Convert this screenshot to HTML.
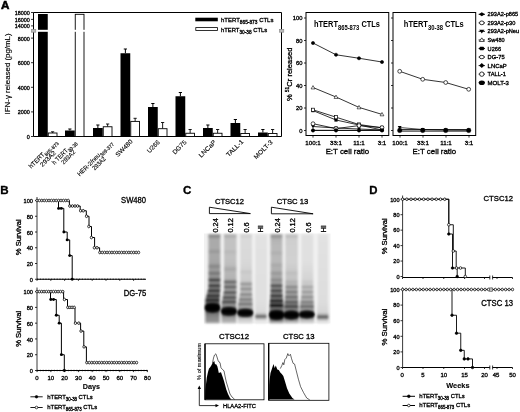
<!DOCTYPE html>
<html><head><meta charset="utf-8"><title>Figure</title>
<style>
html,body{margin:0;padding:0;background:#fff;width:520px;height:412px;overflow:hidden}
svg{display:block;will-change:transform}
text{font-family:"Liberation Sans", sans-serif;fill:#000;stroke:#000;stroke-width:0.32px}
</style></head><body>
<svg width="520" height="412" viewBox="0 0 520 412">
<text x="0.9" y="8.8" font-size="10.2" text-anchor="start" font-weight="bold" textLength="8.4" lengthAdjust="spacingAndGlyphs" style="stroke-width:0.5px">A</text>
<path d="M33.5,12.5 H281.5 V136.5 H33.5 Z" fill="none" stroke="#000" stroke-width="1"/>
<line x1="31.0" y1="136.5" x2="33.5" y2="136.5" stroke="#000" stroke-width="0.8"/>
<text x="29.8" y="138.9" font-size="5.4" text-anchor="end">0</text>
<line x1="31.0" y1="111.9" x2="33.5" y2="111.9" stroke="#000" stroke-width="0.8"/>
<text x="29.8" y="114.30000000000001" font-size="5.4" text-anchor="end">2000</text>
<line x1="31.0" y1="87.3" x2="33.5" y2="87.3" stroke="#000" stroke-width="0.8"/>
<text x="29.8" y="89.7" font-size="5.4" text-anchor="end">4000</text>
<line x1="31.0" y1="62.7" x2="33.5" y2="62.7" stroke="#000" stroke-width="0.8"/>
<text x="29.8" y="65.10000000000001" font-size="5.4" text-anchor="end">6000</text>
<line x1="31.0" y1="38.099999999999994" x2="33.5" y2="38.099999999999994" stroke="#000" stroke-width="0.8"/>
<text x="29.8" y="40.49999999999999" font-size="5.4" text-anchor="end">8000</text>
<line x1="31.0" y1="25.9" x2="33.5" y2="25.9" stroke="#000" stroke-width="0.8"/>
<text x="29.8" y="28.299999999999997" font-size="5.4" text-anchor="end">14000</text>
<line x1="31.0" y1="19.4" x2="33.5" y2="19.4" stroke="#000" stroke-width="0.8"/>
<text x="29.8" y="21.799999999999997" font-size="5.4" text-anchor="end">16000</text>
<line x1="31.0" y1="12.5" x2="33.5" y2="12.5" stroke="#000" stroke-width="0.8"/>
<text x="29.8" y="14.9" font-size="5.4" text-anchor="end">18000</text>
<rect x="31.4" y="29.3" width="4.4" height="2.9" fill="#bbb" stroke="#888" stroke-width="0.6"/>
<rect x="279.4" y="29.3" width="4.4" height="2.9" fill="#bbb" stroke="#888" stroke-width="0.6"/>
<text x="10.4" y="73.9" font-size="7.4" text-anchor="middle" textLength="81" lengthAdjust="spacingAndGlyphs" transform="rotate(-90 10.4 73.9)" style="stroke-width:0.15px">IFN-&#947; released (pg/mL)</text>
<rect x="38.0" y="14" width="9.75" height="122.5" fill="#000" stroke="none" stroke-width="1"/>
<line x1="52.625" y1="131.8" x2="52.625" y2="133" stroke="#000" stroke-width="0.9"/>
<line x1="51.025" y1="131.8" x2="54.225" y2="131.8" stroke="#000" stroke-width="0.9"/>
<rect x="48.25" y="133" width="8.75" height="3.5" fill="#fff" stroke="#000" stroke-width="0.9"/>
<rect x="65" y="130.5" width="9.75" height="6.0" fill="#000" stroke="none" stroke-width="1"/>
<line x1="69.875" y1="129" x2="69.875" y2="130.5" stroke="#000" stroke-width="1"/>
<line x1="68.275" y1="129" x2="71.475" y2="129" stroke="#000" stroke-width="1"/>
<rect x="75.25" y="14.3" width="8.75" height="122.2" fill="#fff" stroke="#000" stroke-width="0.9"/>
<rect x="93" y="128" width="9.75" height="8.5" fill="#000" stroke="none" stroke-width="1"/>
<line x1="97.875" y1="125" x2="97.875" y2="128" stroke="#000" stroke-width="1"/>
<line x1="96.275" y1="125" x2="99.475" y2="125" stroke="#000" stroke-width="1"/>
<line x1="107.625" y1="124" x2="107.625" y2="126.75" stroke="#000" stroke-width="0.9"/>
<line x1="106.025" y1="124" x2="109.225" y2="124" stroke="#000" stroke-width="0.9"/>
<rect x="103.25" y="126.75" width="8.75" height="9.75" fill="#fff" stroke="#000" stroke-width="0.9"/>
<rect x="120.5" y="53.25" width="9.75" height="83.25" fill="#000" stroke="none" stroke-width="1"/>
<line x1="125.375" y1="49" x2="125.375" y2="53.25" stroke="#000" stroke-width="1"/>
<line x1="123.775" y1="49" x2="126.975" y2="49" stroke="#000" stroke-width="1"/>
<line x1="135.125" y1="118.3" x2="135.125" y2="121.4" stroke="#000" stroke-width="0.9"/>
<line x1="133.525" y1="118.3" x2="136.725" y2="118.3" stroke="#000" stroke-width="0.9"/>
<rect x="130.75" y="121.4" width="8.75" height="15.099999999999994" fill="#fff" stroke="#000" stroke-width="0.9"/>
<rect x="148.0" y="107" width="9.75" height="29.5" fill="#000" stroke="none" stroke-width="1"/>
<line x1="152.875" y1="103.5" x2="152.875" y2="107" stroke="#000" stroke-width="1"/>
<line x1="151.275" y1="103.5" x2="154.475" y2="103.5" stroke="#000" stroke-width="1"/>
<line x1="162.625" y1="122.5" x2="162.625" y2="128.7" stroke="#000" stroke-width="0.9"/>
<line x1="161.025" y1="122.5" x2="164.225" y2="122.5" stroke="#000" stroke-width="0.9"/>
<rect x="158.25" y="128.7" width="8.75" height="7.800000000000011" fill="#fff" stroke="#000" stroke-width="0.9"/>
<rect x="175.5" y="96.25" width="9.75" height="40.25" fill="#000" stroke="none" stroke-width="1"/>
<line x1="180.375" y1="92.5" x2="180.375" y2="96.25" stroke="#000" stroke-width="1"/>
<line x1="178.775" y1="92.5" x2="181.975" y2="92.5" stroke="#000" stroke-width="1"/>
<line x1="190.125" y1="129.5" x2="190.125" y2="133.25" stroke="#000" stroke-width="0.9"/>
<line x1="188.525" y1="129.5" x2="191.725" y2="129.5" stroke="#000" stroke-width="0.9"/>
<rect x="185.75" y="133.25" width="8.75" height="3.25" fill="#fff" stroke="#000" stroke-width="0.9"/>
<rect x="203.0" y="128" width="9.75" height="8.5" fill="#000" stroke="none" stroke-width="1"/>
<line x1="207.875" y1="125" x2="207.875" y2="128" stroke="#000" stroke-width="1"/>
<line x1="206.275" y1="125" x2="209.475" y2="125" stroke="#000" stroke-width="1"/>
<line x1="217.625" y1="129.5" x2="217.625" y2="133.25" stroke="#000" stroke-width="0.9"/>
<line x1="216.025" y1="129.5" x2="219.225" y2="129.5" stroke="#000" stroke-width="0.9"/>
<rect x="213.25" y="133.25" width="8.75" height="3.25" fill="#fff" stroke="#000" stroke-width="0.9"/>
<rect x="230.5" y="123" width="9.75" height="13.5" fill="#000" stroke="none" stroke-width="1"/>
<line x1="235.375" y1="119.5" x2="235.375" y2="123" stroke="#000" stroke-width="1"/>
<line x1="233.775" y1="119.5" x2="236.975" y2="119.5" stroke="#000" stroke-width="1"/>
<line x1="245.125" y1="129.5" x2="245.125" y2="133.5" stroke="#000" stroke-width="0.9"/>
<line x1="243.525" y1="129.5" x2="246.725" y2="129.5" stroke="#000" stroke-width="0.9"/>
<rect x="240.75" y="133.5" width="8.75" height="3.0" fill="#fff" stroke="#000" stroke-width="0.9"/>
<rect x="258.0" y="132.5" width="9.75" height="4.0" fill="#000" stroke="none" stroke-width="1"/>
<line x1="262.875" y1="129.5" x2="262.875" y2="132.5" stroke="#000" stroke-width="1"/>
<line x1="261.275" y1="129.5" x2="264.475" y2="129.5" stroke="#000" stroke-width="1"/>
<line x1="272.625" y1="129.5" x2="272.625" y2="133.5" stroke="#000" stroke-width="0.9"/>
<line x1="271.025" y1="129.5" x2="274.225" y2="129.5" stroke="#000" stroke-width="0.9"/>
<rect x="268.25" y="133.5" width="8.75" height="3.0" fill="#fff" stroke="#000" stroke-width="0.9"/>
<rect x="37" y="29.8" width="11" height="2.0" fill="#fff" stroke="none" stroke-width="1"/>
<rect x="73.5" y="29.8" width="12" height="2.0" fill="#fff" stroke="none" stroke-width="1"/>
<rect x="195.3" y="17.7" width="22.5" height="3.6" fill="#000" stroke="none" stroke-width="1"/>
<rect x="195.8" y="27.6" width="21.7" height="2.9" fill="#fff" stroke="#000" stroke-width="0.8"/>
<text x="221" y="22.3" font-size="6.2" textLength="52.4" lengthAdjust="spacingAndGlyphs">hTERT<tspan font-size="5" dy="1.8">865-873</tspan><tspan dy="-1.8"> CTLs</tspan></text>
<text x="221" y="32.1" font-size="6.2" textLength="46.2" lengthAdjust="spacingAndGlyphs">hTERT<tspan font-size="5" dy="1.8">30-38</tspan><tspan dy="-1.8"> CTLs</tspan></text>
<text x="42.99" y="154.01" font-size="6.3" text-anchor="middle" dy="2.27" transform="rotate(-45 42.99 154.01)" textLength="37.5" lengthAdjust="spacingAndGlyphs" style="stroke-width:0.12px">hTERT<tspan font-size="5" dy="2">865-873</tspan></text>
<text x="47.80" y="158.67" font-size="6.3" text-anchor="middle" dy="2.27" transform="rotate(-45 47.80 158.67)" textLength="19.5" lengthAdjust="spacingAndGlyphs" style="stroke-width:0.12px">293A2</text>
<text x="63.99" y="152.24" font-size="6.3" text-anchor="middle" dy="2.27" transform="rotate(-45 63.99 152.24)" textLength="31.5" lengthAdjust="spacingAndGlyphs" style="stroke-width:0.12px">h TERT<tspan font-size="5" dy="2">30-38</tspan></text>
<text x="68.17" y="156.98" font-size="6.3" text-anchor="middle" dy="2.27" transform="rotate(-45 68.17 156.98)" textLength="17.3" lengthAdjust="spacingAndGlyphs" style="stroke-width:0.12px">293A2</text>
<text x="94.82" y="158.32" font-size="6.3" text-anchor="middle" dy="2.27" transform="rotate(-45 94.82 158.32)" textLength="47.0" lengthAdjust="spacingAndGlyphs" style="stroke-width:0.12px">HER-2/neu<tspan font-size="5" dy="2">369-377</tspan></text>
<text x="98.85" y="163.34" font-size="6.3" text-anchor="middle" dy="2.27" transform="rotate(-45 98.85 163.34)" textLength="16.0" lengthAdjust="spacingAndGlyphs" style="stroke-width:0.12px">293A2</text>
<text x="123.96" y="148.00" font-size="6.3" text-anchor="middle" dy="2.27" transform="rotate(-45 123.96 148.00)" textLength="21.5" lengthAdjust="spacingAndGlyphs" style="stroke-width:0.12px">SW480</text>
<text x="153.30" y="146.51" font-size="6.3" text-anchor="middle" dy="2.27" transform="rotate(-45 153.30 146.51)" textLength="15.3" lengthAdjust="spacingAndGlyphs" style="stroke-width:0.12px">U266</text>
<text x="179.39" y="147.15" font-size="6.3" text-anchor="middle" dy="2.27" transform="rotate(-45 179.39 147.15)" textLength="17.0" lengthAdjust="spacingAndGlyphs" style="stroke-width:0.12px">DG75</text>
<text x="207.25" y="148.70" font-size="6.3" text-anchor="middle" dy="2.27" transform="rotate(-45 207.25 148.70)" textLength="21.6" lengthAdjust="spacingAndGlyphs" style="stroke-width:0.12px">LNCaP</text>
<text x="234.76" y="148.07" font-size="6.3" text-anchor="middle" dy="2.27" transform="rotate(-45 234.76 148.07)" textLength="21.4" lengthAdjust="spacingAndGlyphs" style="stroke-width:0.12px">TALL-1</text>
<text x="263.11" y="149.41" font-size="6.3" text-anchor="middle" dy="2.27" transform="rotate(-45 263.11 149.41)" textLength="23.7" lengthAdjust="spacingAndGlyphs" style="stroke-width:0.12px">MOLT-3</text>
<!-- panel cyto -->
<rect x="306" y="12.5" width="82.75" height="123" fill="none" stroke="#000" stroke-width="1"/>
<line x1="304" y1="130.5" x2="306" y2="130.5" stroke="#000" stroke-width="0.8"/>
<line x1="304" y1="108.0" x2="306" y2="108.0" stroke="#000" stroke-width="0.8"/>
<line x1="304" y1="85.5" x2="306" y2="85.5" stroke="#000" stroke-width="0.8"/>
<line x1="304" y1="63.0" x2="306" y2="63.0" stroke="#000" stroke-width="0.8"/>
<line x1="304" y1="40.5" x2="306" y2="40.5" stroke="#000" stroke-width="0.8"/>
<line x1="304" y1="18.0" x2="306" y2="18.0" stroke="#000" stroke-width="0.8"/>
<line x1="313" y1="135.5" x2="313" y2="137.6" stroke="#000" stroke-width="0.8"/>
<line x1="336" y1="135.5" x2="336" y2="137.6" stroke="#000" stroke-width="0.8"/>
<line x1="359" y1="135.5" x2="359" y2="137.6" stroke="#000" stroke-width="0.8"/>
<line x1="382" y1="135.5" x2="382" y2="137.6" stroke="#000" stroke-width="0.8"/>
<text x="313" y="144.8" font-size="6.2" text-anchor="middle">100:1</text>
<text x="336" y="144.8" font-size="6.2" text-anchor="middle">33:1</text>
<text x="359" y="144.8" font-size="6.2" text-anchor="middle">11:1</text>
<text x="382" y="144.8" font-size="6.2" text-anchor="middle">3:1</text>
<text x="347.375" y="154.3" font-size="8.0" text-anchor="middle" textLength="43.5" lengthAdjust="spacingAndGlyphs">E:T cell ratio</text>
<rect x="393" y="12.5" width="82.69999999999999" height="123" fill="none" stroke="#000" stroke-width="1"/>
<line x1="391" y1="130.5" x2="393" y2="130.5" stroke="#000" stroke-width="0.8"/>
<line x1="391" y1="108.0" x2="393" y2="108.0" stroke="#000" stroke-width="0.8"/>
<line x1="391" y1="85.5" x2="393" y2="85.5" stroke="#000" stroke-width="0.8"/>
<line x1="391" y1="63.0" x2="393" y2="63.0" stroke="#000" stroke-width="0.8"/>
<line x1="391" y1="40.5" x2="393" y2="40.5" stroke="#000" stroke-width="0.8"/>
<line x1="391" y1="18.0" x2="393" y2="18.0" stroke="#000" stroke-width="0.8"/>
<line x1="400" y1="135.5" x2="400" y2="137.6" stroke="#000" stroke-width="0.8"/>
<line x1="423" y1="135.5" x2="423" y2="137.6" stroke="#000" stroke-width="0.8"/>
<line x1="446" y1="135.5" x2="446" y2="137.6" stroke="#000" stroke-width="0.8"/>
<line x1="469" y1="135.5" x2="469" y2="137.6" stroke="#000" stroke-width="0.8"/>
<text x="400" y="144.8" font-size="6.2" text-anchor="middle">100:1</text>
<text x="423" y="144.8" font-size="6.2" text-anchor="middle">33:1</text>
<text x="446" y="144.8" font-size="6.2" text-anchor="middle">11:1</text>
<text x="469" y="144.8" font-size="6.2" text-anchor="middle">3:1</text>
<text x="434.35" y="154.3" font-size="8.0" text-anchor="middle" textLength="43.5" lengthAdjust="spacingAndGlyphs">E:T cell ratio</text>
<text x="302.5" y="132.5" font-size="5.8" text-anchor="end">0</text>
<text x="302.5" y="110.0" font-size="5.8" text-anchor="end">20</text>
<text x="302.5" y="87.5" font-size="5.8" text-anchor="end">40</text>
<text x="302.5" y="65.0" font-size="5.8" text-anchor="end">60</text>
<text x="302.5" y="42.5" font-size="5.8" text-anchor="end">80</text>
<text x="302.5" y="20.0" font-size="5.8" text-anchor="end">100</text>
<text x="314" y="27.2" font-size="8.3" font-weight="bold" style="stroke-width:0" textLength="66" lengthAdjust="spacingAndGlyphs">hTERT<tspan font-size="6.5" dy="2.7">865-873</tspan><tspan dy="-2.7"> CTLs</tspan></text>
<text x="403.8" y="27.2" font-size="8.3" font-weight="bold" style="stroke-width:0" textLength="60" lengthAdjust="spacingAndGlyphs">hTERT<tspan font-size="6.5" dy="2.7">30-38</tspan><tspan dy="-2.7"> CTLs</tspan></text>
<text x="292" y="74.3" font-size="7.6" text-anchor="middle" transform="rotate(-90 292 74.3)" textLength="53.4" lengthAdjust="spacingAndGlyphs">% <tspan font-size="5" dy="-2.5">51</tspan><tspan dy="2.5">Cr released</tspan></text>
<polyline points="313.00,43.00 336.00,54.75 359.00,58.25 382.00,62.00" fill="none" stroke="#000" stroke-width="0.8"/>
<polyline points="313.00,87.50 336.00,97.00 359.00,107.40 382.00,114.40" fill="none" stroke="#000" stroke-width="0.8"/>
<polyline points="313.00,110.60 336.00,120.00 359.00,125.00 382.00,130.00" fill="none" stroke="#000" stroke-width="0.8"/>
<polyline points="313.00,109.80 336.00,117.20 359.00,124.50 382.00,127.80" fill="none" stroke="#000" stroke-width="0.8"/>
<polyline points="313.00,126.50 336.00,128.00 359.00,129.00 382.00,130.00" fill="none" stroke="#000" stroke-width="0.8"/>
<polyline points="313.00,123.70 336.00,128.60 359.00,125.60 382.00,127.60" fill="none" stroke="#000" stroke-width="0.8"/>
<polyline points="313.00,130.40 336.00,130.40 359.00,130.40 382.00,130.40" fill="none" stroke="#000" stroke-width="0.8"/>
<polyline points="313.00,130.40 336.00,130.40 359.00,130.40 382.00,130.40" fill="none" stroke="#000" stroke-width="0.8"/>
<circle cx="313.00" cy="43.00" r="1.6" fill="#000" stroke="#000" stroke-width="0.6"/>
<circle cx="336.00" cy="54.75" r="1.6" fill="#000" stroke="#000" stroke-width="0.6"/>
<circle cx="359.00" cy="58.25" r="1.6" fill="#000" stroke="#000" stroke-width="0.6"/>
<circle cx="382.00" cy="62.00" r="1.6" fill="#000" stroke="#000" stroke-width="0.6"/>
<polygon points="313.00,85.58 314.92,88.94 311.08,88.94" fill="#fff" stroke="#000" stroke-width="0.6"/>
<polygon points="336.00,95.08 337.92,98.44 334.08,98.44" fill="#fff" stroke="#000" stroke-width="0.6"/>
<polygon points="359.00,105.48 360.92,108.84 357.08,108.84" fill="#fff" stroke="#000" stroke-width="0.6"/>
<polygon points="382.00,112.48 383.92,115.84 380.08,115.84" fill="#fff" stroke="#000" stroke-width="0.6"/>
<rect x="311.4" y="109.0" width="3.2" height="3.2" fill="#000" stroke="none" stroke-width="1"/>
<rect x="334.4" y="118.4" width="3.2" height="3.2" fill="#000" stroke="none" stroke-width="1"/>
<rect x="357.4" y="123.4" width="3.2" height="3.2" fill="#000" stroke="none" stroke-width="1"/>
<rect x="380.4" y="128.4" width="3.2" height="3.2" fill="#000" stroke="none" stroke-width="1"/>
<rect x="311.40" y="108.20" width="3.2" height="3.2" fill="#fff" stroke="#000" stroke-width="0.7"/>
<rect x="334.40" y="115.60" width="3.2" height="3.2" fill="#fff" stroke="#000" stroke-width="0.7"/>
<rect x="357.40" y="122.90" width="3.2" height="3.2" fill="#fff" stroke="#000" stroke-width="0.7"/>
<rect x="380.40" y="126.20" width="3.2" height="3.2" fill="#fff" stroke="#000" stroke-width="0.7"/>
<polygon points="313.00,128.42 314.92,125.06 311.08,125.06" fill="#000" stroke="none" stroke-width="1"/>
<polygon points="336.00,129.92 337.92,126.56 334.08,126.56" fill="#000" stroke="none" stroke-width="1"/>
<polygon points="359.00,130.92 360.92,127.56 357.08,127.56" fill="#000" stroke="none" stroke-width="1"/>
<polygon points="382.00,131.92 383.92,128.56 380.08,128.56" fill="#000" stroke="none" stroke-width="1"/>
<circle cx="313.00" cy="123.70" r="1.9" fill="#fff" stroke="#000" stroke-width="0.7"/>
<circle cx="336.00" cy="128.60" r="1.9" fill="#fff" stroke="#000" stroke-width="0.7"/>
<circle cx="359.00" cy="125.60" r="1.9" fill="#fff" stroke="#000" stroke-width="0.7"/>
<circle cx="382.00" cy="127.60" r="1.9" fill="#fff" stroke="#000" stroke-width="0.7"/>
<polygon points="313.00,128.32 315.08,130.40 313.00,132.48 310.92,130.40" fill="#000" stroke="none" stroke-width="1"/>
<polygon points="336.00,128.32 338.08,130.40 336.00,132.48 333.92,130.40" fill="#000" stroke="none" stroke-width="1"/>
<polygon points="359.00,128.32 361.08,130.40 359.00,132.48 356.92,130.40" fill="#000" stroke="none" stroke-width="1"/>
<polygon points="382.00,128.32 384.08,130.40 382.00,132.48 379.92,130.40" fill="#000" stroke="none" stroke-width="1"/>
<circle cx="313.00" cy="130.40" r="1.6" fill="#000" stroke="#000" stroke-width="0.6"/>
<circle cx="336.00" cy="130.40" r="1.6" fill="#000" stroke="#000" stroke-width="0.6"/>
<circle cx="359.00" cy="130.40" r="1.6" fill="#000" stroke="#000" stroke-width="0.6"/>
<circle cx="382.00" cy="130.40" r="1.6" fill="#000" stroke="#000" stroke-width="0.6"/>
<polyline points="399.70,129.60 422.70,129.60 445.70,129.60 468.70,129.60" fill="none" stroke="#000" stroke-width="0.9"/>
<polyline points="399.70,131.10 422.70,131.10 445.70,131.10 468.70,131.10" fill="none" stroke="#000" stroke-width="0.9"/>
<polyline points="399.70,127.50 422.70,129.50 445.70,130.00 468.70,130.20" fill="none" stroke="#000" stroke-width="0.7"/>
<polyline points="399.70,71.30 422.70,79.30 445.70,82.50 468.70,89.30" fill="none" stroke="#000" stroke-width="0.8"/>
<polygon points="399.70,129.42 401.62,126.06 397.78,126.06" fill="#000" stroke="none" stroke-width="1"/>
<polygon points="422.70,131.42 424.62,128.06 420.78,128.06" fill="#000" stroke="none" stroke-width="1"/>
<polygon points="445.70,131.92 447.62,128.56 443.78,128.56" fill="#000" stroke="none" stroke-width="1"/>
<polygon points="468.70,132.12 470.62,128.76 466.78,128.76" fill="#000" stroke="none" stroke-width="1"/>
<circle cx="399.70" cy="130.40" r="2.3" fill="#000" stroke="#000" stroke-width="0.3"/>
<circle cx="422.70" cy="130.40" r="2.3" fill="#000" stroke="#000" stroke-width="0.3"/>
<circle cx="445.70" cy="130.40" r="2.3" fill="#000" stroke="#000" stroke-width="0.3"/>
<circle cx="468.70" cy="130.40" r="2.3" fill="#000" stroke="#000" stroke-width="0.3"/>
<circle cx="399.70" cy="71.30" r="1.9" fill="#fff" stroke="#000" stroke-width="0.7"/>
<circle cx="422.70" cy="79.30" r="1.9" fill="#fff" stroke="#000" stroke-width="0.7"/>
<circle cx="445.70" cy="82.50" r="1.9" fill="#fff" stroke="#000" stroke-width="0.7"/>
<circle cx="468.70" cy="89.30" r="1.9" fill="#fff" stroke="#000" stroke-width="0.7"/>
<line x1="478.6" y1="14.3" x2="485" y2="14.3" stroke="#000" stroke-width="0.8"/>
<polygon points="478.80,14.30 481.80,12.30 484.80,14.30 481.80,16.30" fill="#000" stroke="none" stroke-width="1"/>
<text x="487.6" y="16.3" font-size="5.8" text-anchor="start" textLength="30.6" lengthAdjust="spacingAndGlyphs">293A2-p865</text>
<line x1="478.6" y1="22.85" x2="485" y2="22.85" stroke="#000" stroke-width="0.8"/>
<ellipse cx="481.8" cy="22.85" rx="2.3" ry="1.9" fill="#fff" stroke="#000" stroke-width="0.8"/>
<text x="487.6" y="24.85" font-size="5.8" text-anchor="start" textLength="27.7" lengthAdjust="spacingAndGlyphs">293A2-p30</text>
<line x1="478.6" y1="31.400000000000002" x2="485" y2="31.400000000000002" stroke="#000" stroke-width="0.8"/>
<polygon points="479.20,29.80 484.40,29.80 481.80,33.40" fill="#000" stroke="none" stroke-width="1"/>
<text x="487.6" y="33.400000000000006" font-size="5.8" text-anchor="start" textLength="31.5" lengthAdjust="spacingAndGlyphs">293A2-pNeu</text>
<line x1="478.6" y1="39.95" x2="485" y2="39.95" stroke="#000" stroke-width="0.8"/>
<polygon points="481.80,37.85 484.30,41.45 479.30,41.45" fill="#fff" stroke="#000" stroke-width="0.7"/>
<text x="487.6" y="41.95" font-size="5.8" text-anchor="start" textLength="17" lengthAdjust="spacingAndGlyphs">Sw480</text>
<line x1="478.6" y1="48.5" x2="485" y2="48.5" stroke="#000" stroke-width="0.8"/>
<polygon points="478.80,48.50 480.20,46.70 483.40,46.70 484.80,48.50 483.40,50.30 480.20,50.30" fill="#000" stroke="none" stroke-width="1"/>
<text x="487.6" y="50.5" font-size="5.8" text-anchor="start" textLength="13.4" lengthAdjust="spacingAndGlyphs">U266</text>
<line x1="478.6" y1="57.05" x2="485" y2="57.05" stroke="#000" stroke-width="0.8"/>
<ellipse cx="481.8" cy="57.05" rx="2.4" ry="1.7" fill="#fff" stroke="#000" stroke-width="0.8"/>
<text x="487.6" y="59.05" font-size="5.8" text-anchor="start" textLength="17" lengthAdjust="spacingAndGlyphs">DG-75</text>
<line x1="478.6" y1="65.60000000000001" x2="485" y2="65.60000000000001" stroke="#000" stroke-width="0.8"/>
<polygon points="479.20,65.60 481.80,63.10 484.40,65.60 481.80,68.10" fill="#000" stroke="none" stroke-width="1"/>
<text x="487.6" y="67.60000000000001" font-size="5.8" text-anchor="start" textLength="19.1" lengthAdjust="spacingAndGlyphs">LNCaP</text>
<line x1="478.6" y1="74.15" x2="485" y2="74.15" stroke="#000" stroke-width="0.8"/>
<circle cx="481.80" cy="74.15" r="2.2" fill="#fff" stroke="#000" stroke-width="0.8"/>
<text x="487.6" y="76.15" font-size="5.8" text-anchor="start" textLength="18.3" lengthAdjust="spacingAndGlyphs">TALL-1</text>
<line x1="478.6" y1="82.7" x2="485" y2="82.7" stroke="#000" stroke-width="0.8"/>
<ellipse cx="481.8" cy="82.70" rx="3" ry="2.3" fill="#000"/>
<text x="487.6" y="84.7" font-size="5.8" text-anchor="start" textLength="21.3" lengthAdjust="spacingAndGlyphs">MOLT-3</text>
<!-- panel B -->
<text x="0.2" y="193.5" font-size="11.6" text-anchor="start" font-weight="bold">B</text>
<line x1="37" y1="197" x2="37" y2="279.25" stroke="#3a3a3a" stroke-width="1"/>
<line x1="35" y1="279.25" x2="37" y2="279.25" stroke="#000" stroke-width="0.8"/>
<text x="32.9" y="281.85" font-size="5.6" text-anchor="end">0</text>
<line x1="35" y1="263.5" x2="37" y2="263.5" stroke="#000" stroke-width="0.8"/>
<text x="32.9" y="266.1" font-size="5.6" text-anchor="end">20</text>
<line x1="35" y1="247.75" x2="37" y2="247.75" stroke="#000" stroke-width="0.8"/>
<text x="32.9" y="250.35" font-size="5.6" text-anchor="end">40</text>
<line x1="35" y1="232.0" x2="37" y2="232.0" stroke="#000" stroke-width="0.8"/>
<text x="32.9" y="234.6" font-size="5.6" text-anchor="end">60</text>
<line x1="35" y1="216.25" x2="37" y2="216.25" stroke="#000" stroke-width="0.8"/>
<text x="32.9" y="218.85" font-size="5.6" text-anchor="end">80</text>
<line x1="35" y1="200.5" x2="37" y2="200.5" stroke="#000" stroke-width="0.8"/>
<text x="32.9" y="203.1" font-size="5.6" text-anchor="end">100</text>
<line x1="37" y1="279.25" x2="146" y2="279.25" stroke="#000" stroke-width="1"/>
<line x1="37" y1="279.25" x2="146" y2="279.25" stroke="#000" stroke-width="1.6" stroke-dasharray="1.2 1.6" opacity="0.6"/>
<line x1="37.0" y1="279.25" x2="37.0" y2="280.85" stroke="#000" stroke-width="0.8"/>
<line x1="50.8" y1="279.25" x2="50.8" y2="280.85" stroke="#000" stroke-width="0.8"/>
<line x1="64.6" y1="279.25" x2="64.6" y2="280.85" stroke="#000" stroke-width="0.8"/>
<line x1="78.4" y1="279.25" x2="78.4" y2="280.85" stroke="#000" stroke-width="0.8"/>
<line x1="92.19999999999999" y1="279.25" x2="92.19999999999999" y2="280.85" stroke="#000" stroke-width="0.8"/>
<line x1="106.0" y1="279.25" x2="106.0" y2="280.85" stroke="#000" stroke-width="0.8"/>
<line x1="119.8" y1="279.25" x2="119.8" y2="280.85" stroke="#000" stroke-width="0.8"/>
<line x1="133.6" y1="279.25" x2="133.6" y2="280.85" stroke="#000" stroke-width="0.8"/>
<line x1="37" y1="287.5" x2="37" y2="370.5" stroke="#3a3a3a" stroke-width="1"/>
<line x1="35" y1="370.5" x2="37" y2="370.5" stroke="#000" stroke-width="0.8"/>
<text x="32.9" y="373.1" font-size="5.6" text-anchor="end">0</text>
<line x1="35" y1="354.72" x2="37" y2="354.72" stroke="#000" stroke-width="0.8"/>
<text x="32.9" y="357.32000000000005" font-size="5.6" text-anchor="end">20</text>
<line x1="35" y1="338.94" x2="37" y2="338.94" stroke="#000" stroke-width="0.8"/>
<text x="32.9" y="341.54" font-size="5.6" text-anchor="end">40</text>
<line x1="35" y1="323.15999999999997" x2="37" y2="323.15999999999997" stroke="#000" stroke-width="0.8"/>
<text x="32.9" y="325.76" font-size="5.6" text-anchor="end">60</text>
<line x1="35" y1="307.38" x2="37" y2="307.38" stroke="#000" stroke-width="0.8"/>
<text x="32.9" y="309.98" font-size="5.6" text-anchor="end">80</text>
<line x1="35" y1="291.6" x2="37" y2="291.6" stroke="#000" stroke-width="0.8"/>
<text x="32.9" y="294.20000000000005" font-size="5.6" text-anchor="end">100</text>
<line x1="37" y1="370.5" x2="147.6" y2="370.5" stroke="#000" stroke-width="1"/>
<line x1="37" y1="370.5" x2="147.6" y2="370.5" stroke="#000" stroke-width="1.6" stroke-dasharray="1.2 1.6" opacity="0.6"/>
<line x1="37.0" y1="370.5" x2="37.0" y2="372.1" stroke="#000" stroke-width="0.8"/>
<line x1="50.8" y1="370.5" x2="50.8" y2="372.1" stroke="#000" stroke-width="0.8"/>
<line x1="64.6" y1="370.5" x2="64.6" y2="372.1" stroke="#000" stroke-width="0.8"/>
<line x1="78.4" y1="370.5" x2="78.4" y2="372.1" stroke="#000" stroke-width="0.8"/>
<line x1="92.19999999999999" y1="370.5" x2="92.19999999999999" y2="372.1" stroke="#000" stroke-width="0.8"/>
<line x1="106.0" y1="370.5" x2="106.0" y2="372.1" stroke="#000" stroke-width="0.8"/>
<line x1="119.8" y1="370.5" x2="119.8" y2="372.1" stroke="#000" stroke-width="0.8"/>
<line x1="133.6" y1="370.5" x2="133.6" y2="372.1" stroke="#000" stroke-width="0.8"/>
<line x1="147.39999999999998" y1="370.5" x2="147.39999999999998" y2="372.1" stroke="#000" stroke-width="0.8"/>
<text x="21.2" y="237.2" font-size="7.6" text-anchor="middle" textLength="36" lengthAdjust="spacingAndGlyphs" transform="rotate(-90 21.2 237.2)">% Survival</text>
<text x="21.2" y="328.8" font-size="7.6" text-anchor="middle" textLength="36" lengthAdjust="spacingAndGlyphs" transform="rotate(-90 21.2 328.8)">% Survival</text>
<text x="121.1" y="202.5" font-size="8.4" text-anchor="start" textLength="25" lengthAdjust="spacingAndGlyphs">SW480</text>
<text x="123.8" y="296.0" font-size="8.4" text-anchor="start" textLength="22.5" lengthAdjust="spacingAndGlyphs">DG-75</text>
<text x="37.0" y="380.1" font-size="6.0" text-anchor="middle">0</text>
<text x="50.8" y="380.1" font-size="6.0" text-anchor="middle">10</text>
<text x="64.6" y="380.1" font-size="6.0" text-anchor="middle">20</text>
<text x="78.4" y="380.1" font-size="6.0" text-anchor="middle">30</text>
<text x="92.19999999999999" y="380.1" font-size="6.0" text-anchor="middle">40</text>
<text x="106.0" y="380.1" font-size="6.0" text-anchor="middle">50</text>
<text x="119.8" y="380.1" font-size="6.0" text-anchor="middle">60</text>
<text x="133.6" y="380.1" font-size="6.0" text-anchor="middle">70</text>
<text x="147.39999999999998" y="380.1" font-size="6.0" text-anchor="middle">80</text>
<text x="91.3" y="389.0" font-size="6.9" text-anchor="middle" font-weight="bold" textLength="17.2" lengthAdjust="spacingAndGlyphs" style="stroke-width:0.1px">Days</text>
<path d="M37.00,200.50 H58.50 V208.38 H63.80 V232.00 H67.20 V239.88 H69.70 V255.62 H72.20 V279.25 H72.20" fill="none" stroke="#000" stroke-width="1"/>
<path d="M37.00,200.50 H69.40 V206.01 H80.20 V210.74 H86.30 V216.25 H89.00 V226.49 H91.50 V237.51 H94.60 V247.75 H99.60 V252.47 H139.00" fill="none" stroke="#000" stroke-width="1"/>
<ellipse cx="37.00" cy="200.50" rx="1.15" ry="1.35" fill="#fff" stroke="#000" stroke-width="0.75"/>
<ellipse cx="39.40" cy="200.50" rx="1.15" ry="1.35" fill="#fff" stroke="#000" stroke-width="0.75"/>
<ellipse cx="41.80" cy="200.50" rx="1.15" ry="1.35" fill="#fff" stroke="#000" stroke-width="0.75"/>
<ellipse cx="44.20" cy="200.50" rx="1.15" ry="1.35" fill="#fff" stroke="#000" stroke-width="0.75"/>
<ellipse cx="46.60" cy="200.50" rx="1.15" ry="1.35" fill="#fff" stroke="#000" stroke-width="0.75"/>
<ellipse cx="49.00" cy="200.50" rx="1.15" ry="1.35" fill="#fff" stroke="#000" stroke-width="0.75"/>
<ellipse cx="51.40" cy="200.50" rx="1.15" ry="1.35" fill="#fff" stroke="#000" stroke-width="0.75"/>
<ellipse cx="53.80" cy="200.50" rx="1.15" ry="1.35" fill="#fff" stroke="#000" stroke-width="0.75"/>
<ellipse cx="56.20" cy="200.50" rx="1.15" ry="1.35" fill="#fff" stroke="#000" stroke-width="0.75"/>
<ellipse cx="58.60" cy="200.50" rx="1.15" ry="1.35" fill="#fff" stroke="#000" stroke-width="0.75"/>
<ellipse cx="61.00" cy="200.50" rx="1.15" ry="1.35" fill="#fff" stroke="#000" stroke-width="0.75"/>
<ellipse cx="63.40" cy="200.50" rx="1.15" ry="1.35" fill="#fff" stroke="#000" stroke-width="0.75"/>
<ellipse cx="65.80" cy="200.50" rx="1.15" ry="1.35" fill="#fff" stroke="#000" stroke-width="0.75"/>
<ellipse cx="68.20" cy="200.50" rx="1.15" ry="1.35" fill="#fff" stroke="#000" stroke-width="0.75"/>
<ellipse cx="69.80" cy="206.01" rx="1.15" ry="1.35" fill="#fff" stroke="#000" stroke-width="0.75"/>
<ellipse cx="72.40" cy="206.01" rx="1.15" ry="1.35" fill="#fff" stroke="#000" stroke-width="0.75"/>
<ellipse cx="75.00" cy="206.01" rx="1.15" ry="1.35" fill="#fff" stroke="#000" stroke-width="0.75"/>
<ellipse cx="77.60" cy="206.01" rx="1.15" ry="1.35" fill="#fff" stroke="#000" stroke-width="0.75"/>
<ellipse cx="80.60" cy="210.74" rx="1.15" ry="1.35" fill="#fff" stroke="#000" stroke-width="0.75"/>
<ellipse cx="83.20" cy="210.74" rx="1.15" ry="1.35" fill="#fff" stroke="#000" stroke-width="0.75"/>
<ellipse cx="86.50" cy="216.25" rx="1.15" ry="1.35" fill="#fff" stroke="#000" stroke-width="0.75"/>
<ellipse cx="88.80" cy="226.49" rx="1.15" ry="1.35" fill="#fff" stroke="#000" stroke-width="0.75"/>
<ellipse cx="91.40" cy="237.51" rx="1.15" ry="1.35" fill="#fff" stroke="#000" stroke-width="0.75"/>
<ellipse cx="94.30" cy="247.75" rx="1.15" ry="1.35" fill="#fff" stroke="#000" stroke-width="0.75"/>
<ellipse cx="97.00" cy="247.75" rx="1.15" ry="1.35" fill="#fff" stroke="#000" stroke-width="0.75"/>
<ellipse cx="99.80" cy="252.47" rx="1.15" ry="1.35" fill="#fff" stroke="#000" stroke-width="0.75"/>
<ellipse cx="102.22" cy="252.47" rx="1.15" ry="1.35" fill="#fff" stroke="#000" stroke-width="0.75"/>
<ellipse cx="104.65" cy="252.47" rx="1.15" ry="1.35" fill="#fff" stroke="#000" stroke-width="0.75"/>
<ellipse cx="107.08" cy="252.47" rx="1.15" ry="1.35" fill="#fff" stroke="#000" stroke-width="0.75"/>
<ellipse cx="109.50" cy="252.47" rx="1.15" ry="1.35" fill="#fff" stroke="#000" stroke-width="0.75"/>
<ellipse cx="111.92" cy="252.47" rx="1.15" ry="1.35" fill="#fff" stroke="#000" stroke-width="0.75"/>
<ellipse cx="114.35" cy="252.47" rx="1.15" ry="1.35" fill="#fff" stroke="#000" stroke-width="0.75"/>
<ellipse cx="116.77" cy="252.47" rx="1.15" ry="1.35" fill="#fff" stroke="#000" stroke-width="0.75"/>
<ellipse cx="119.20" cy="252.47" rx="1.15" ry="1.35" fill="#fff" stroke="#000" stroke-width="0.75"/>
<ellipse cx="121.62" cy="252.47" rx="1.15" ry="1.35" fill="#fff" stroke="#000" stroke-width="0.75"/>
<ellipse cx="124.05" cy="252.47" rx="1.15" ry="1.35" fill="#fff" stroke="#000" stroke-width="0.75"/>
<ellipse cx="126.47" cy="252.47" rx="1.15" ry="1.35" fill="#fff" stroke="#000" stroke-width="0.75"/>
<ellipse cx="128.90" cy="252.47" rx="1.15" ry="1.35" fill="#fff" stroke="#000" stroke-width="0.75"/>
<ellipse cx="131.32" cy="252.47" rx="1.15" ry="1.35" fill="#fff" stroke="#000" stroke-width="0.75"/>
<ellipse cx="133.75" cy="252.47" rx="1.15" ry="1.35" fill="#fff" stroke="#000" stroke-width="0.75"/>
<ellipse cx="136.18" cy="252.47" rx="1.15" ry="1.35" fill="#fff" stroke="#000" stroke-width="0.75"/>
<ellipse cx="138.60" cy="252.47" rx="1.15" ry="1.35" fill="#fff" stroke="#000" stroke-width="0.75"/>
<ellipse cx="58.60" cy="208.38" rx="1.5" ry="1.4" fill="#000"/>
<ellipse cx="61.30" cy="208.38" rx="1.5" ry="1.4" fill="#000"/>
<ellipse cx="63.90" cy="232.00" rx="1.5" ry="1.4" fill="#000"/>
<ellipse cx="67.20" cy="239.88" rx="1.5" ry="1.4" fill="#000"/>
<ellipse cx="69.70" cy="255.62" rx="1.5" ry="1.4" fill="#000"/>
<ellipse cx="72.20" cy="279.25" rx="1.5" ry="1.4" fill="#000"/>
<path d="M37.00,291.60 H50.50 V299.49 H56.30 V315.27 H59.20 V323.16 H61.40 V354.72 H64.30 V370.50 H64.30" fill="none" stroke="#000" stroke-width="1"/>
<path d="M37.00,291.60 H63.60 V299.49 H67.50 V307.38 H75.00 V323.16 H80.60 V331.05 H83.80 V346.83 H86.40 V362.61 H137.00" fill="none" stroke="#000" stroke-width="1"/>
<ellipse cx="37.00" cy="291.60" rx="1.15" ry="1.35" fill="#fff" stroke="#000" stroke-width="0.75"/>
<ellipse cx="39.35" cy="291.60" rx="1.15" ry="1.35" fill="#fff" stroke="#000" stroke-width="0.75"/>
<ellipse cx="41.69" cy="291.60" rx="1.15" ry="1.35" fill="#fff" stroke="#000" stroke-width="0.75"/>
<ellipse cx="44.04" cy="291.60" rx="1.15" ry="1.35" fill="#fff" stroke="#000" stroke-width="0.75"/>
<ellipse cx="46.38" cy="291.60" rx="1.15" ry="1.35" fill="#fff" stroke="#000" stroke-width="0.75"/>
<ellipse cx="48.73" cy="291.60" rx="1.15" ry="1.35" fill="#fff" stroke="#000" stroke-width="0.75"/>
<ellipse cx="51.07" cy="291.60" rx="1.15" ry="1.35" fill="#fff" stroke="#000" stroke-width="0.75"/>
<ellipse cx="53.42" cy="291.60" rx="1.15" ry="1.35" fill="#fff" stroke="#000" stroke-width="0.75"/>
<ellipse cx="55.76" cy="291.60" rx="1.15" ry="1.35" fill="#fff" stroke="#000" stroke-width="0.75"/>
<ellipse cx="58.11" cy="291.60" rx="1.15" ry="1.35" fill="#fff" stroke="#000" stroke-width="0.75"/>
<ellipse cx="60.45" cy="291.60" rx="1.15" ry="1.35" fill="#fff" stroke="#000" stroke-width="0.75"/>
<ellipse cx="62.80" cy="291.60" rx="1.15" ry="1.35" fill="#fff" stroke="#000" stroke-width="0.75"/>
<ellipse cx="64.40" cy="299.49" rx="1.15" ry="1.35" fill="#fff" stroke="#000" stroke-width="0.75"/>
<ellipse cx="67.80" cy="307.38" rx="1.15" ry="1.35" fill="#fff" stroke="#000" stroke-width="0.75"/>
<ellipse cx="69.93" cy="307.38" rx="1.15" ry="1.35" fill="#fff" stroke="#000" stroke-width="0.75"/>
<ellipse cx="72.07" cy="307.38" rx="1.15" ry="1.35" fill="#fff" stroke="#000" stroke-width="0.75"/>
<ellipse cx="74.20" cy="307.38" rx="1.15" ry="1.35" fill="#fff" stroke="#000" stroke-width="0.75"/>
<ellipse cx="75.40" cy="323.16" rx="1.15" ry="1.35" fill="#fff" stroke="#000" stroke-width="0.75"/>
<ellipse cx="78.80" cy="323.16" rx="1.15" ry="1.35" fill="#fff" stroke="#000" stroke-width="0.75"/>
<ellipse cx="81.00" cy="331.05" rx="1.15" ry="1.35" fill="#fff" stroke="#000" stroke-width="0.75"/>
<ellipse cx="84.00" cy="346.83" rx="1.15" ry="1.35" fill="#fff" stroke="#000" stroke-width="0.75"/>
<ellipse cx="86.80" cy="362.61" rx="1.15" ry="1.35" fill="#fff" stroke="#000" stroke-width="0.75"/>
<ellipse cx="89.29" cy="362.61" rx="1.15" ry="1.35" fill="#fff" stroke="#000" stroke-width="0.75"/>
<ellipse cx="91.78" cy="362.61" rx="1.15" ry="1.35" fill="#fff" stroke="#000" stroke-width="0.75"/>
<ellipse cx="94.27" cy="362.61" rx="1.15" ry="1.35" fill="#fff" stroke="#000" stroke-width="0.75"/>
<ellipse cx="96.76" cy="362.61" rx="1.15" ry="1.35" fill="#fff" stroke="#000" stroke-width="0.75"/>
<ellipse cx="99.25" cy="362.61" rx="1.15" ry="1.35" fill="#fff" stroke="#000" stroke-width="0.75"/>
<ellipse cx="101.74" cy="362.61" rx="1.15" ry="1.35" fill="#fff" stroke="#000" stroke-width="0.75"/>
<ellipse cx="104.23" cy="362.61" rx="1.15" ry="1.35" fill="#fff" stroke="#000" stroke-width="0.75"/>
<ellipse cx="106.72" cy="362.61" rx="1.15" ry="1.35" fill="#fff" stroke="#000" stroke-width="0.75"/>
<ellipse cx="109.21" cy="362.61" rx="1.15" ry="1.35" fill="#fff" stroke="#000" stroke-width="0.75"/>
<ellipse cx="111.70" cy="362.61" rx="1.15" ry="1.35" fill="#fff" stroke="#000" stroke-width="0.75"/>
<ellipse cx="114.19" cy="362.61" rx="1.15" ry="1.35" fill="#fff" stroke="#000" stroke-width="0.75"/>
<ellipse cx="116.68" cy="362.61" rx="1.15" ry="1.35" fill="#fff" stroke="#000" stroke-width="0.75"/>
<ellipse cx="119.17" cy="362.61" rx="1.15" ry="1.35" fill="#fff" stroke="#000" stroke-width="0.75"/>
<ellipse cx="121.66" cy="362.61" rx="1.15" ry="1.35" fill="#fff" stroke="#000" stroke-width="0.75"/>
<ellipse cx="124.15" cy="362.61" rx="1.15" ry="1.35" fill="#fff" stroke="#000" stroke-width="0.75"/>
<ellipse cx="126.64" cy="362.61" rx="1.15" ry="1.35" fill="#fff" stroke="#000" stroke-width="0.75"/>
<ellipse cx="129.13" cy="362.61" rx="1.15" ry="1.35" fill="#fff" stroke="#000" stroke-width="0.75"/>
<ellipse cx="131.62" cy="362.61" rx="1.15" ry="1.35" fill="#fff" stroke="#000" stroke-width="0.75"/>
<ellipse cx="134.11" cy="362.61" rx="1.15" ry="1.35" fill="#fff" stroke="#000" stroke-width="0.75"/>
<ellipse cx="136.60" cy="362.61" rx="1.15" ry="1.35" fill="#fff" stroke="#000" stroke-width="0.75"/>
<ellipse cx="50.80" cy="299.49" rx="1.5" ry="1.4" fill="#000"/>
<ellipse cx="53.50" cy="299.49" rx="1.5" ry="1.4" fill="#000"/>
<ellipse cx="56.30" cy="315.27" rx="1.5" ry="1.4" fill="#000"/>
<ellipse cx="59.20" cy="323.16" rx="1.5" ry="1.4" fill="#000"/>
<ellipse cx="61.40" cy="354.72" rx="1.5" ry="1.4" fill="#000"/>
<ellipse cx="64.30" cy="370.50" rx="1.5" ry="1.4" fill="#000"/>
<line x1="30.4" y1="396.8" x2="42.7" y2="396.8" stroke="#000" stroke-width="0.9"/>
<circle cx="36.50" cy="396.80" r="1.3" fill="#000" stroke="#000" stroke-width="0.6"/>
<line x1="30.4" y1="407.5" x2="42.7" y2="407.5" stroke="#000" stroke-width="0.9"/>
<circle cx="36.50" cy="407.50" r="1.3" fill="#fff" stroke="#000" stroke-width="0.7"/>
<text x="47.3" y="398.6" font-size="6.2" textLength="45.4" lengthAdjust="spacingAndGlyphs">hTERT<tspan font-size="4.6" dy="2">30-38</tspan><tspan dy="-2"> CTLs</tspan></text>
<text x="47.3" y="409.3" font-size="6.2" textLength="50" lengthAdjust="spacingAndGlyphs">hTERT<tspan font-size="4.6" dy="2">865-873</tspan><tspan dy="-2"> CTLs</tspan></text>
<!-- panel C -->
<text x="182.9" y="193.6" font-size="11.6" text-anchor="start" font-weight="bold">C</text>
<text x="229.5" y="204" font-size="7.6" text-anchor="middle" textLength="29" lengthAdjust="spacingAndGlyphs">CTSC12</text>
<text x="292.5" y="204" font-size="7.6" text-anchor="middle" textLength="31.5" lengthAdjust="spacingAndGlyphs">CTSC 13</text>
<polygon points="209.40,207.20 209.40,213.60 250.40,213.60" fill="#fff" stroke="#000" stroke-width="0.9"/>
<polygon points="271.40,207.20 271.40,213.80 313.10,213.80" fill="#fff" stroke="#000" stroke-width="0.9"/>
<text x="0" y="0" font-size="7.4" text-anchor="start" transform="translate(217.6 232.6) rotate(-90)">0.24</text>
<text x="0" y="0" font-size="7.4" text-anchor="start" transform="translate(233 232.6) rotate(-90)">0.12</text>
<text x="0" y="0" font-size="7.4" text-anchor="start" transform="translate(248.5 232.6) rotate(-90)">0.6</text>
<text x="0" y="0" font-size="7.4" text-anchor="start" transform="translate(263.3 232.6) rotate(-90)">HI</text>
<text x="0" y="0" font-size="7.4" text-anchor="start" transform="translate(279.6 232.6) rotate(-90)">0.24</text>
<text x="0" y="0" font-size="7.4" text-anchor="start" transform="translate(295.2 232.6) rotate(-90)">0.12</text>
<text x="0" y="0" font-size="7.4" text-anchor="start" transform="translate(311 232.6) rotate(-90)">0.6</text>
<text x="0" y="0" font-size="7.4" text-anchor="start" transform="translate(326 232.6) rotate(-90)">HI</text>
<defs>
<filter id="bl1" x="-20%" y="-20%" width="140%" height="140%"><feGaussianBlur stdDeviation="0.9"/></filter>
<filter id="bl2" x="-20%" y="-20%" width="140%" height="140%"><feGaussianBlur stdDeviation="1.6"/></filter>
</defs>
<rect x="204" y="233.5" width="126.5" height="90" fill="#f1f1f1"/>
<defs>
<linearGradient id="g1" x1="0" y1="0" x2="0" y2="1"><stop offset="0.0000" stop-color="rgb(204,204,204)"/><stop offset="0.0112" stop-color="rgb(138,138,138)"/><stop offset="0.0223" stop-color="rgb(132,132,132)"/><stop offset="0.0335" stop-color="rgb(145,145,145)"/><stop offset="0.0447" stop-color="rgb(161,161,161)"/><stop offset="0.0559" stop-color="rgb(168,168,168)"/><stop offset="0.0670" stop-color="rgb(170,170,170)"/><stop offset="0.0782" stop-color="rgb(170,170,170)"/><stop offset="0.0894" stop-color="rgb(170,170,170)"/><stop offset="0.1006" stop-color="rgb(170,170,170)"/><stop offset="0.1117" stop-color="rgb(170,170,170)"/><stop offset="0.1229" stop-color="rgb(170,170,170)"/><stop offset="0.1341" stop-color="rgb(170,170,170)"/><stop offset="0.1453" stop-color="rgb(170,170,170)"/><stop offset="0.1564" stop-color="rgb(170,170,170)"/><stop offset="0.1676" stop-color="rgb(167,167,167)"/><stop offset="0.1788" stop-color="rgb(161,161,161)"/><stop offset="0.1899" stop-color="rgb(154,154,154)"/><stop offset="0.2011" stop-color="rgb(153,153,153)"/><stop offset="0.2123" stop-color="rgb(160,160,160)"/><stop offset="0.2235" stop-color="rgb(166,166,166)"/><stop offset="0.2346" stop-color="rgb(168,168,168)"/><stop offset="0.2458" stop-color="rgb(168,168,168)"/><stop offset="0.2570" stop-color="rgb(167,167,167)"/><stop offset="0.2682" stop-color="rgb(167,167,167)"/><stop offset="0.2793" stop-color="rgb(166,166,166)"/><stop offset="0.2905" stop-color="rgb(166,166,166)"/><stop offset="0.3017" stop-color="rgb(166,166,166)"/><stop offset="0.3128" stop-color="rgb(165,165,165)"/><stop offset="0.3240" stop-color="rgb(163,163,163)"/><stop offset="0.3352" stop-color="rgb(158,158,158)"/><stop offset="0.3464" stop-color="rgb(146,146,146)"/><stop offset="0.3575" stop-color="rgb(133,133,133)"/><stop offset="0.3687" stop-color="rgb(135,135,135)"/><stop offset="0.3799" stop-color="rgb(148,148,148)"/><stop offset="0.3911" stop-color="rgb(155,155,155)"/><stop offset="0.4022" stop-color="rgb(156,156,156)"/><stop offset="0.4134" stop-color="rgb(152,152,152)"/><stop offset="0.4246" stop-color="rgb(134,134,134)"/><stop offset="0.4358" stop-color="rgb(111,111,111)"/><stop offset="0.4469" stop-color="rgb(119,119,119)"/><stop offset="0.4581" stop-color="rgb(142,142,142)"/><stop offset="0.4693" stop-color="rgb(149,149,149)"/><stop offset="0.4804" stop-color="rgb(148,148,148)"/><stop offset="0.4916" stop-color="rgb(134,134,134)"/><stop offset="0.5028" stop-color="rgb(85,85,85)"/><stop offset="0.5140" stop-color="rgb(44,44,44)"/><stop offset="0.5251" stop-color="rgb(83,83,83)"/><stop offset="0.5363" stop-color="rgb(131,131,131)"/><stop offset="0.5475" stop-color="rgb(140,140,140)"/><stop offset="0.5587" stop-color="rgb(120,120,120)"/><stop offset="0.5698" stop-color="rgb(60,60,60)"/><stop offset="0.5810" stop-color="rgb(36,36,36)"/><stop offset="0.5922" stop-color="rgb(91,91,91)"/><stop offset="0.6034" stop-color="rgb(130,130,130)"/><stop offset="0.6145" stop-color="rgb(115,115,115)"/><stop offset="0.6257" stop-color="rgb(52,52,52)"/><stop offset="0.6369" stop-color="rgb(26,26,26)"/><stop offset="0.6480" stop-color="rgb(85,85,85)"/><stop offset="0.6592" stop-color="rgb(126,126,126)"/><stop offset="0.6704" stop-color="rgb(111,111,111)"/><stop offset="0.6816" stop-color="rgb(49,49,49)"/><stop offset="0.6927" stop-color="rgb(23,23,23)"/><stop offset="0.7039" stop-color="rgb(81,81,81)"/><stop offset="0.7151" stop-color="rgb(109,109,109)"/><stop offset="0.7263" stop-color="rgb(58,58,58)"/><stop offset="0.7374" stop-color="rgb(7,7,7)"/><stop offset="0.7486" stop-color="rgb(47,47,47)"/><stop offset="0.7598" stop-color="rgb(90,90,90)"/><stop offset="0.7709" stop-color="rgb(83,83,83)"/><stop offset="0.7821" stop-color="rgb(52,52,52)"/><stop offset="0.7933" stop-color="rgb(14,14,14)"/><stop offset="0.8045" stop-color="rgb(0,0,0)"/><stop offset="0.8156" stop-color="rgb(0,0,0)"/><stop offset="0.8268" stop-color="rgb(0,0,0)"/><stop offset="0.8380" stop-color="rgb(0,0,0)"/><stop offset="0.8492" stop-color="rgb(9,9,9)"/><stop offset="0.8603" stop-color="rgb(45,45,45)"/><stop offset="0.8715" stop-color="rgb(75,75,75)"/><stop offset="0.8827" stop-color="rgb(100,100,100)"/><stop offset="0.8939" stop-color="rgb(116,116,116)"/><stop offset="0.9050" stop-color="rgb(126,126,126)"/><stop offset="0.9162" stop-color="rgb(132,132,132)"/><stop offset="0.9274" stop-color="rgb(135,135,135)"/><stop offset="0.9385" stop-color="rgb(138,138,138)"/><stop offset="0.9497" stop-color="rgb(140,140,140)"/><stop offset="0.9609" stop-color="rgb(142,142,142)"/><stop offset="0.9721" stop-color="rgb(144,144,144)"/><stop offset="0.9832" stop-color="rgb(146,146,146)"/><stop offset="0.9944" stop-color="rgb(202,202,202)"/></linearGradient>
<linearGradient id="g2" x1="0" y1="0" x2="0" y2="1"><stop offset="0.0000" stop-color="rgb(219,219,219)"/><stop offset="0.0112" stop-color="rgb(174,174,174)"/><stop offset="0.0223" stop-color="rgb(170,170,170)"/><stop offset="0.0335" stop-color="rgb(179,179,179)"/><stop offset="0.0447" stop-color="rgb(189,189,189)"/><stop offset="0.0559" stop-color="rgb(193,193,193)"/><stop offset="0.0670" stop-color="rgb(194,194,194)"/><stop offset="0.0782" stop-color="rgb(194,194,194)"/><stop offset="0.0894" stop-color="rgb(194,194,194)"/><stop offset="0.1006" stop-color="rgb(194,194,194)"/><stop offset="0.1117" stop-color="rgb(194,194,194)"/><stop offset="0.1229" stop-color="rgb(194,194,194)"/><stop offset="0.1341" stop-color="rgb(194,194,194)"/><stop offset="0.1453" stop-color="rgb(194,194,194)"/><stop offset="0.1564" stop-color="rgb(194,194,194)"/><stop offset="0.1676" stop-color="rgb(194,194,194)"/><stop offset="0.1788" stop-color="rgb(191,191,191)"/><stop offset="0.1899" stop-color="rgb(187,187,187)"/><stop offset="0.2011" stop-color="rgb(184,184,184)"/><stop offset="0.2123" stop-color="rgb(187,187,187)"/><stop offset="0.2235" stop-color="rgb(191,191,191)"/><stop offset="0.2346" stop-color="rgb(193,193,193)"/><stop offset="0.2458" stop-color="rgb(193,193,193)"/><stop offset="0.2570" stop-color="rgb(193,193,193)"/><stop offset="0.2682" stop-color="rgb(193,193,193)"/><stop offset="0.2793" stop-color="rgb(193,193,193)"/><stop offset="0.2905" stop-color="rgb(192,192,192)"/><stop offset="0.3017" stop-color="rgb(192,192,192)"/><stop offset="0.3128" stop-color="rgb(192,192,192)"/><stop offset="0.3240" stop-color="rgb(191,191,191)"/><stop offset="0.3352" stop-color="rgb(190,190,190)"/><stop offset="0.3464" stop-color="rgb(189,189,189)"/><stop offset="0.3575" stop-color="rgb(186,186,186)"/><stop offset="0.3687" stop-color="rgb(180,180,180)"/><stop offset="0.3799" stop-color="rgb(172,172,172)"/><stop offset="0.3911" stop-color="rgb(167,167,167)"/><stop offset="0.4022" stop-color="rgb(170,170,170)"/><stop offset="0.4134" stop-color="rgb(177,177,177)"/><stop offset="0.4246" stop-color="rgb(181,181,181)"/><stop offset="0.4358" stop-color="rgb(183,183,183)"/><stop offset="0.4469" stop-color="rgb(182,182,182)"/><stop offset="0.4581" stop-color="rgb(181,181,181)"/><stop offset="0.4693" stop-color="rgb(181,181,181)"/><stop offset="0.4804" stop-color="rgb(180,180,180)"/><stop offset="0.4916" stop-color="rgb(179,179,179)"/><stop offset="0.5028" stop-color="rgb(177,177,177)"/><stop offset="0.5140" stop-color="rgb(165,165,165)"/><stop offset="0.5251" stop-color="rgb(121,121,121)"/><stop offset="0.5363" stop-color="rgb(84,84,84)"/><stop offset="0.5475" stop-color="rgb(119,119,119)"/><stop offset="0.5587" stop-color="rgb(161,161,161)"/><stop offset="0.5698" stop-color="rgb(160,160,160)"/><stop offset="0.5810" stop-color="rgb(114,114,114)"/><stop offset="0.5922" stop-color="rgb(75,75,75)"/><stop offset="0.6034" stop-color="rgb(113,113,113)"/><stop offset="0.6145" stop-color="rgb(157,157,157)"/><stop offset="0.6257" stop-color="rgb(164,164,164)"/><stop offset="0.6369" stop-color="rgb(135,135,135)"/><stop offset="0.6480" stop-color="rgb(76,76,76)"/><stop offset="0.6592" stop-color="rgb(76,76,76)"/><stop offset="0.6704" stop-color="rgb(133,133,133)"/><stop offset="0.6816" stop-color="rgb(157,157,157)"/><stop offset="0.6927" stop-color="rgb(130,130,130)"/><stop offset="0.7039" stop-color="rgb(68,68,68)"/><stop offset="0.7151" stop-color="rgb(68,68,68)"/><stop offset="0.7263" stop-color="rgb(127,127,127)"/><stop offset="0.7374" stop-color="rgb(143,143,143)"/><stop offset="0.7486" stop-color="rgb(95,95,95)"/><stop offset="0.7598" stop-color="rgb(50,50,50)"/><stop offset="0.7709" stop-color="rgb(92,92,92)"/><stop offset="0.7821" stop-color="rgb(140,140,140)"/><stop offset="0.7933" stop-color="rgb(148,148,148)"/><stop offset="0.8045" stop-color="rgb(138,138,138)"/><stop offset="0.8156" stop-color="rgb(117,117,117)"/><stop offset="0.8268" stop-color="rgb(83,83,83)"/><stop offset="0.8380" stop-color="rgb(40,40,40)"/><stop offset="0.8492" stop-color="rgb(0,0,0)"/><stop offset="0.8603" stop-color="rgb(0,0,0)"/><stop offset="0.8715" stop-color="rgb(0,0,0)"/><stop offset="0.8827" stop-color="rgb(0,0,0)"/><stop offset="0.8939" stop-color="rgb(42,42,42)"/><stop offset="0.9050" stop-color="rgb(87,87,87)"/><stop offset="0.9162" stop-color="rgb(123,123,123)"/><stop offset="0.9274" stop-color="rgb(146,146,146)"/><stop offset="0.9385" stop-color="rgb(159,159,159)"/><stop offset="0.9497" stop-color="rgb(166,166,166)"/><stop offset="0.9609" stop-color="rgb(171,171,171)"/><stop offset="0.9721" stop-color="rgb(174,174,174)"/><stop offset="0.9832" stop-color="rgb(177,177,177)"/><stop offset="0.9944" stop-color="rgb(215,215,215)"/></linearGradient>
<linearGradient id="g3" x1="0" y1="0" x2="0" y2="1"><stop offset="0.0000" stop-color="rgb(229,229,229)"/><stop offset="0.0112" stop-color="rgb(209,209,209)"/><stop offset="0.0223" stop-color="rgb(207,207,207)"/><stop offset="0.0335" stop-color="rgb(211,211,211)"/><stop offset="0.0447" stop-color="rgb(216,216,216)"/><stop offset="0.0559" stop-color="rgb(218,218,218)"/><stop offset="0.0670" stop-color="rgb(218,218,218)"/><stop offset="0.0782" stop-color="rgb(218,218,218)"/><stop offset="0.0894" stop-color="rgb(218,218,218)"/><stop offset="0.1006" stop-color="rgb(218,218,218)"/><stop offset="0.1117" stop-color="rgb(218,218,218)"/><stop offset="0.1229" stop-color="rgb(218,218,218)"/><stop offset="0.1341" stop-color="rgb(218,218,218)"/><stop offset="0.1453" stop-color="rgb(218,218,218)"/><stop offset="0.1564" stop-color="rgb(218,218,218)"/><stop offset="0.1676" stop-color="rgb(217,217,217)"/><stop offset="0.1788" stop-color="rgb(217,217,217)"/><stop offset="0.1899" stop-color="rgb(217,217,217)"/><stop offset="0.2011" stop-color="rgb(217,217,217)"/><stop offset="0.2123" stop-color="rgb(217,217,217)"/><stop offset="0.2235" stop-color="rgb(217,217,217)"/><stop offset="0.2346" stop-color="rgb(217,217,217)"/><stop offset="0.2458" stop-color="rgb(217,217,217)"/><stop offset="0.2570" stop-color="rgb(217,217,217)"/><stop offset="0.2682" stop-color="rgb(217,217,217)"/><stop offset="0.2793" stop-color="rgb(217,217,217)"/><stop offset="0.2905" stop-color="rgb(216,216,216)"/><stop offset="0.3017" stop-color="rgb(216,216,216)"/><stop offset="0.3128" stop-color="rgb(216,216,216)"/><stop offset="0.3240" stop-color="rgb(216,216,216)"/><stop offset="0.3352" stop-color="rgb(215,215,215)"/><stop offset="0.3464" stop-color="rgb(214,214,214)"/><stop offset="0.3575" stop-color="rgb(214,214,214)"/><stop offset="0.3687" stop-color="rgb(213,213,213)"/><stop offset="0.3799" stop-color="rgb(212,212,212)"/><stop offset="0.3911" stop-color="rgb(211,211,211)"/><stop offset="0.4022" stop-color="rgb(209,209,209)"/><stop offset="0.4134" stop-color="rgb(202,202,202)"/><stop offset="0.4246" stop-color="rgb(197,197,197)"/><stop offset="0.4358" stop-color="rgb(201,201,201)"/><stop offset="0.4469" stop-color="rgb(206,206,206)"/><stop offset="0.4581" stop-color="rgb(207,207,207)"/><stop offset="0.4693" stop-color="rgb(207,207,207)"/><stop offset="0.4804" stop-color="rgb(206,206,206)"/><stop offset="0.4916" stop-color="rgb(205,205,205)"/><stop offset="0.5028" stop-color="rgb(205,205,205)"/><stop offset="0.5140" stop-color="rgb(204,204,204)"/><stop offset="0.5251" stop-color="rgb(203,203,203)"/><stop offset="0.5363" stop-color="rgb(194,194,194)"/><stop offset="0.5475" stop-color="rgb(164,164,164)"/><stop offset="0.5587" stop-color="rgb(138,138,138)"/><stop offset="0.5698" stop-color="rgb(162,162,162)"/><stop offset="0.5810" stop-color="rgb(190,190,190)"/><stop offset="0.5922" stop-color="rgb(189,189,189)"/><stop offset="0.6034" stop-color="rgb(157,157,157)"/><stop offset="0.6145" stop-color="rgb(130,130,130)"/><stop offset="0.6257" stop-color="rgb(156,156,156)"/><stop offset="0.6369" stop-color="rgb(187,187,187)"/><stop offset="0.6480" stop-color="rgb(191,191,191)"/><stop offset="0.6592" stop-color="rgb(171,171,171)"/><stop offset="0.6704" stop-color="rgb(130,130,130)"/><stop offset="0.6816" stop-color="rgb(129,129,129)"/><stop offset="0.6927" stop-color="rgb(169,169,169)"/><stop offset="0.7039" stop-color="rgb(185,185,185)"/><stop offset="0.7151" stop-color="rgb(165,165,165)"/><stop offset="0.7263" stop-color="rgb(119,119,119)"/><stop offset="0.7374" stop-color="rgb(119,119,119)"/><stop offset="0.7486" stop-color="rgb(161,161,161)"/><stop offset="0.7598" stop-color="rgb(172,172,172)"/><stop offset="0.7709" stop-color="rgb(134,134,134)"/><stop offset="0.7821" stop-color="rgb(100,100,100)"/><stop offset="0.7933" stop-color="rgb(131,131,131)"/><stop offset="0.8045" stop-color="rgb(166,166,166)"/><stop offset="0.8156" stop-color="rgb(169,169,169)"/><stop offset="0.8268" stop-color="rgb(154,154,154)"/><stop offset="0.8380" stop-color="rgb(126,126,126)"/><stop offset="0.8492" stop-color="rgb(84,84,84)"/><stop offset="0.8603" stop-color="rgb(34,34,34)"/><stop offset="0.8715" stop-color="rgb(0,0,0)"/><stop offset="0.8827" stop-color="rgb(0,0,0)"/><stop offset="0.8939" stop-color="rgb(3,3,3)"/><stop offset="0.9050" stop-color="rgb(50,50,50)"/><stop offset="0.9162" stop-color="rgb(104,104,104)"/><stop offset="0.9274" stop-color="rgb(150,150,150)"/><stop offset="0.9385" stop-color="rgb(182,182,182)"/><stop offset="0.9497" stop-color="rgb(198,198,198)"/><stop offset="0.9609" stop-color="rgb(206,206,206)"/><stop offset="0.9721" stop-color="rgb(211,211,211)"/><stop offset="0.9832" stop-color="rgb(214,214,214)"/><stop offset="0.9944" stop-color="rgb(228,228,228)"/></linearGradient>
<linearGradient id="g4" x1="0" y1="0" x2="0" y2="1"><stop offset="0.0000" stop-color="rgb(236,236,236)"/><stop offset="0.0112" stop-color="rgb(226,226,226)"/><stop offset="0.0223" stop-color="rgb(226,226,226)"/><stop offset="0.0335" stop-color="rgb(226,226,226)"/><stop offset="0.0447" stop-color="rgb(226,226,226)"/><stop offset="0.0559" stop-color="rgb(226,226,226)"/><stop offset="0.0670" stop-color="rgb(226,226,226)"/><stop offset="0.0782" stop-color="rgb(226,226,226)"/><stop offset="0.0894" stop-color="rgb(226,226,226)"/><stop offset="0.1006" stop-color="rgb(226,226,226)"/><stop offset="0.1117" stop-color="rgb(226,226,226)"/><stop offset="0.1229" stop-color="rgb(226,226,226)"/><stop offset="0.1341" stop-color="rgb(226,226,226)"/><stop offset="0.1453" stop-color="rgb(226,226,226)"/><stop offset="0.1564" stop-color="rgb(226,226,226)"/><stop offset="0.1676" stop-color="rgb(225,225,225)"/><stop offset="0.1788" stop-color="rgb(225,225,225)"/><stop offset="0.1899" stop-color="rgb(225,225,225)"/><stop offset="0.2011" stop-color="rgb(225,225,225)"/><stop offset="0.2123" stop-color="rgb(225,225,225)"/><stop offset="0.2235" stop-color="rgb(225,225,225)"/><stop offset="0.2346" stop-color="rgb(225,225,225)"/><stop offset="0.2458" stop-color="rgb(225,225,225)"/><stop offset="0.2570" stop-color="rgb(225,225,225)"/><stop offset="0.2682" stop-color="rgb(225,225,225)"/><stop offset="0.2793" stop-color="rgb(225,225,225)"/><stop offset="0.2905" stop-color="rgb(225,225,225)"/><stop offset="0.3017" stop-color="rgb(225,225,225)"/><stop offset="0.3128" stop-color="rgb(225,225,225)"/><stop offset="0.3240" stop-color="rgb(225,225,225)"/><stop offset="0.3352" stop-color="rgb(225,225,225)"/><stop offset="0.3464" stop-color="rgb(225,225,225)"/><stop offset="0.3575" stop-color="rgb(225,225,225)"/><stop offset="0.3687" stop-color="rgb(225,225,225)"/><stop offset="0.3799" stop-color="rgb(225,225,225)"/><stop offset="0.3911" stop-color="rgb(225,225,225)"/><stop offset="0.4022" stop-color="rgb(225,225,225)"/><stop offset="0.4134" stop-color="rgb(225,225,225)"/><stop offset="0.4246" stop-color="rgb(225,225,225)"/><stop offset="0.4358" stop-color="rgb(225,225,225)"/><stop offset="0.4469" stop-color="rgb(225,225,225)"/><stop offset="0.4581" stop-color="rgb(224,224,224)"/><stop offset="0.4693" stop-color="rgb(224,224,224)"/><stop offset="0.4804" stop-color="rgb(224,224,224)"/><stop offset="0.4916" stop-color="rgb(224,224,224)"/><stop offset="0.5028" stop-color="rgb(224,224,224)"/><stop offset="0.5140" stop-color="rgb(224,224,224)"/><stop offset="0.5251" stop-color="rgb(224,224,224)"/><stop offset="0.5363" stop-color="rgb(224,224,224)"/><stop offset="0.5475" stop-color="rgb(224,224,224)"/><stop offset="0.5587" stop-color="rgb(224,224,224)"/><stop offset="0.5698" stop-color="rgb(224,224,224)"/><stop offset="0.5810" stop-color="rgb(224,224,224)"/><stop offset="0.5922" stop-color="rgb(224,224,224)"/><stop offset="0.6034" stop-color="rgb(224,224,224)"/><stop offset="0.6145" stop-color="rgb(224,224,224)"/><stop offset="0.6257" stop-color="rgb(224,224,224)"/><stop offset="0.6369" stop-color="rgb(224,224,224)"/><stop offset="0.6480" stop-color="rgb(224,224,224)"/><stop offset="0.6592" stop-color="rgb(224,224,224)"/><stop offset="0.6704" stop-color="rgb(224,224,224)"/><stop offset="0.6816" stop-color="rgb(224,224,224)"/><stop offset="0.6927" stop-color="rgb(224,224,224)"/><stop offset="0.7039" stop-color="rgb(224,224,224)"/><stop offset="0.7151" stop-color="rgb(224,224,224)"/><stop offset="0.7263" stop-color="rgb(224,224,224)"/><stop offset="0.7374" stop-color="rgb(224,224,224)"/><stop offset="0.7486" stop-color="rgb(223,223,223)"/><stop offset="0.7598" stop-color="rgb(223,223,223)"/><stop offset="0.7709" stop-color="rgb(222,222,222)"/><stop offset="0.7821" stop-color="rgb(222,222,222)"/><stop offset="0.7933" stop-color="rgb(222,222,222)"/><stop offset="0.8045" stop-color="rgb(221,221,221)"/><stop offset="0.8156" stop-color="rgb(221,221,221)"/><stop offset="0.8268" stop-color="rgb(220,220,220)"/><stop offset="0.8380" stop-color="rgb(220,220,220)"/><stop offset="0.8492" stop-color="rgb(219,219,219)"/><stop offset="0.8603" stop-color="rgb(219,219,219)"/><stop offset="0.8715" stop-color="rgb(217,217,217)"/><stop offset="0.8827" stop-color="rgb(211,211,211)"/><stop offset="0.8939" stop-color="rgb(188,188,188)"/><stop offset="0.9050" stop-color="rgb(142,142,142)"/><stop offset="0.9162" stop-color="rgb(98,98,98)"/><stop offset="0.9274" stop-color="rgb(100,100,100)"/><stop offset="0.9385" stop-color="rgb(147,147,147)"/><stop offset="0.9497" stop-color="rgb(196,196,196)"/><stop offset="0.9609" stop-color="rgb(222,222,222)"/><stop offset="0.9721" stop-color="rgb(231,231,231)"/><stop offset="0.9832" stop-color="rgb(233,233,233)"/><stop offset="0.9944" stop-color="rgb(235,235,235)"/></linearGradient>
<linearGradient id="g5" x1="0" y1="0" x2="0" y2="1"><stop offset="0.0000" stop-color="rgb(213,213,213)"/><stop offset="0.0112" stop-color="rgb(152,152,152)"/><stop offset="0.0223" stop-color="rgb(144,144,144)"/><stop offset="0.0335" stop-color="rgb(153,153,153)"/><stop offset="0.0447" stop-color="rgb(169,169,169)"/><stop offset="0.0559" stop-color="rgb(178,178,178)"/><stop offset="0.0670" stop-color="rgb(180,180,180)"/><stop offset="0.0782" stop-color="rgb(181,181,181)"/><stop offset="0.0894" stop-color="rgb(182,182,182)"/><stop offset="0.1006" stop-color="rgb(183,183,183)"/><stop offset="0.1117" stop-color="rgb(183,183,183)"/><stop offset="0.1229" stop-color="rgb(184,184,184)"/><stop offset="0.1341" stop-color="rgb(185,185,185)"/><stop offset="0.1453" stop-color="rgb(185,185,185)"/><stop offset="0.1564" stop-color="rgb(186,186,186)"/><stop offset="0.1676" stop-color="rgb(186,186,186)"/><stop offset="0.1788" stop-color="rgb(186,186,186)"/><stop offset="0.1899" stop-color="rgb(183,183,183)"/><stop offset="0.2011" stop-color="rgb(178,178,178)"/><stop offset="0.2123" stop-color="rgb(174,174,174)"/><stop offset="0.2235" stop-color="rgb(177,177,177)"/><stop offset="0.2346" stop-color="rgb(182,182,182)"/><stop offset="0.2458" stop-color="rgb(185,185,185)"/><stop offset="0.2570" stop-color="rgb(186,186,186)"/><stop offset="0.2682" stop-color="rgb(185,185,185)"/><stop offset="0.2793" stop-color="rgb(185,185,185)"/><stop offset="0.2905" stop-color="rgb(185,185,185)"/><stop offset="0.3017" stop-color="rgb(185,185,185)"/><stop offset="0.3128" stop-color="rgb(184,184,184)"/><stop offset="0.3240" stop-color="rgb(181,181,181)"/><stop offset="0.3352" stop-color="rgb(173,173,173)"/><stop offset="0.3464" stop-color="rgb(167,167,167)"/><stop offset="0.3575" stop-color="rgb(171,171,171)"/><stop offset="0.3687" stop-color="rgb(176,176,176)"/><stop offset="0.3799" stop-color="rgb(178,178,178)"/><stop offset="0.3911" stop-color="rgb(177,177,177)"/><stop offset="0.4022" stop-color="rgb(176,176,176)"/><stop offset="0.4134" stop-color="rgb(173,173,173)"/><stop offset="0.4246" stop-color="rgb(163,163,163)"/><stop offset="0.4358" stop-color="rgb(149,149,149)"/><stop offset="0.4469" stop-color="rgb(153,153,153)"/><stop offset="0.4581" stop-color="rgb(165,165,165)"/><stop offset="0.4693" stop-color="rgb(169,169,169)"/><stop offset="0.4804" stop-color="rgb(168,168,168)"/><stop offset="0.4916" stop-color="rgb(163,163,163)"/><stop offset="0.5028" stop-color="rgb(146,146,146)"/><stop offset="0.5140" stop-color="rgb(131,131,131)"/><stop offset="0.5251" stop-color="rgb(143,143,143)"/><stop offset="0.5363" stop-color="rgb(158,158,158)"/><stop offset="0.5475" stop-color="rgb(159,159,159)"/><stop offset="0.5587" stop-color="rgb(138,138,138)"/><stop offset="0.5698" stop-color="rgb(82,82,82)"/><stop offset="0.5810" stop-color="rgb(59,59,59)"/><stop offset="0.5922" stop-color="rgb(110,110,110)"/><stop offset="0.6034" stop-color="rgb(145,145,145)"/><stop offset="0.6145" stop-color="rgb(130,130,130)"/><stop offset="0.6257" stop-color="rgb(69,69,69)"/><stop offset="0.6369" stop-color="rgb(44,44,44)"/><stop offset="0.6480" stop-color="rgb(99,99,99)"/><stop offset="0.6592" stop-color="rgb(138,138,138)"/><stop offset="0.6704" stop-color="rgb(121,121,121)"/><stop offset="0.6816" stop-color="rgb(55,55,55)"/><stop offset="0.6927" stop-color="rgb(28,28,28)"/><stop offset="0.7039" stop-color="rgb(89,89,89)"/><stop offset="0.7151" stop-color="rgb(128,128,128)"/><stop offset="0.7263" stop-color="rgb(104,104,104)"/><stop offset="0.7374" stop-color="rgb(35,35,35)"/><stop offset="0.7486" stop-color="rgb(9,9,9)"/><stop offset="0.7598" stop-color="rgb(65,65,65)"/><stop offset="0.7709" stop-color="rgb(102,102,102)"/><stop offset="0.7821" stop-color="rgb(64,64,64)"/><stop offset="0.7933" stop-color="rgb(0,0,0)"/><stop offset="0.8045" stop-color="rgb(0,0,0)"/><stop offset="0.8156" stop-color="rgb(59,59,59)"/><stop offset="0.8268" stop-color="rgb(106,106,106)"/><stop offset="0.8380" stop-color="rgb(112,112,112)"/><stop offset="0.8492" stop-color="rgb(96,96,96)"/><stop offset="0.8603" stop-color="rgb(67,67,67)"/><stop offset="0.8715" stop-color="rgb(28,28,28)"/><stop offset="0.8827" stop-color="rgb(0,0,0)"/><stop offset="0.8939" stop-color="rgb(0,0,0)"/><stop offset="0.9050" stop-color="rgb(0,0,0)"/><stop offset="0.9162" stop-color="rgb(0,0,0)"/><stop offset="0.9274" stop-color="rgb(0,0,0)"/><stop offset="0.9385" stop-color="rgb(37,37,37)"/><stop offset="0.9497" stop-color="rgb(76,76,76)"/><stop offset="0.9609" stop-color="rgb(105,105,105)"/><stop offset="0.9721" stop-color="rgb(134,134,134)"/><stop offset="0.9832" stop-color="rgb(154,154,154)"/><stop offset="0.9944" stop-color="rgb(198,198,198)"/></linearGradient>
<linearGradient id="g6" x1="0" y1="0" x2="0" y2="1"><stop offset="0.0000" stop-color="rgb(225,225,225)"/><stop offset="0.0112" stop-color="rgb(192,192,192)"/><stop offset="0.0223" stop-color="rgb(187,187,187)"/><stop offset="0.0335" stop-color="rgb(192,192,192)"/><stop offset="0.0447" stop-color="rgb(201,201,201)"/><stop offset="0.0559" stop-color="rgb(206,206,206)"/><stop offset="0.0670" stop-color="rgb(207,207,207)"/><stop offset="0.0782" stop-color="rgb(207,207,207)"/><stop offset="0.0894" stop-color="rgb(207,207,207)"/><stop offset="0.1006" stop-color="rgb(207,207,207)"/><stop offset="0.1117" stop-color="rgb(207,207,207)"/><stop offset="0.1229" stop-color="rgb(207,207,207)"/><stop offset="0.1341" stop-color="rgb(208,208,208)"/><stop offset="0.1453" stop-color="rgb(208,208,208)"/><stop offset="0.1564" stop-color="rgb(208,208,208)"/><stop offset="0.1676" stop-color="rgb(208,208,208)"/><stop offset="0.1788" stop-color="rgb(208,208,208)"/><stop offset="0.1899" stop-color="rgb(208,208,208)"/><stop offset="0.2011" stop-color="rgb(208,208,208)"/><stop offset="0.2123" stop-color="rgb(208,208,208)"/><stop offset="0.2235" stop-color="rgb(208,208,208)"/><stop offset="0.2346" stop-color="rgb(208,208,208)"/><stop offset="0.2458" stop-color="rgb(208,208,208)"/><stop offset="0.2570" stop-color="rgb(209,209,209)"/><stop offset="0.2682" stop-color="rgb(209,209,209)"/><stop offset="0.2793" stop-color="rgb(209,209,209)"/><stop offset="0.2905" stop-color="rgb(209,209,209)"/><stop offset="0.3017" stop-color="rgb(209,209,209)"/><stop offset="0.3128" stop-color="rgb(209,209,209)"/><stop offset="0.3240" stop-color="rgb(208,208,208)"/><stop offset="0.3352" stop-color="rgb(207,207,207)"/><stop offset="0.3464" stop-color="rgb(207,207,207)"/><stop offset="0.3575" stop-color="rgb(206,206,206)"/><stop offset="0.3687" stop-color="rgb(205,205,205)"/><stop offset="0.3799" stop-color="rgb(204,204,204)"/><stop offset="0.3911" stop-color="rgb(203,203,203)"/><stop offset="0.4022" stop-color="rgb(202,202,202)"/><stop offset="0.4134" stop-color="rgb(199,199,199)"/><stop offset="0.4246" stop-color="rgb(193,193,193)"/><stop offset="0.4358" stop-color="rgb(188,188,188)"/><stop offset="0.4469" stop-color="rgb(191,191,191)"/><stop offset="0.4581" stop-color="rgb(196,196,196)"/><stop offset="0.4693" stop-color="rgb(197,197,197)"/><stop offset="0.4804" stop-color="rgb(197,197,197)"/><stop offset="0.4916" stop-color="rgb(196,196,196)"/><stop offset="0.5028" stop-color="rgb(195,195,195)"/><stop offset="0.5140" stop-color="rgb(192,192,192)"/><stop offset="0.5251" stop-color="rgb(181,181,181)"/><stop offset="0.5363" stop-color="rgb(173,173,173)"/><stop offset="0.5475" stop-color="rgb(179,179,179)"/><stop offset="0.5587" stop-color="rgb(186,186,186)"/><stop offset="0.5698" stop-color="rgb(180,180,180)"/><stop offset="0.5810" stop-color="rgb(149,149,149)"/><stop offset="0.5922" stop-color="rgb(123,123,123)"/><stop offset="0.6034" stop-color="rgb(146,146,146)"/><stop offset="0.6145" stop-color="rgb(174,174,174)"/><stop offset="0.6257" stop-color="rgb(172,172,172)"/><stop offset="0.6369" stop-color="rgb(137,137,137)"/><stop offset="0.6480" stop-color="rgb(107,107,107)"/><stop offset="0.6592" stop-color="rgb(134,134,134)"/><stop offset="0.6704" stop-color="rgb(167,167,167)"/><stop offset="0.6816" stop-color="rgb(164,164,164)"/><stop offset="0.6927" stop-color="rgb(125,125,125)"/><stop offset="0.7039" stop-color="rgb(91,91,91)"/><stop offset="0.7151" stop-color="rgb(122,122,122)"/><stop offset="0.7263" stop-color="rgb(158,158,158)"/><stop offset="0.7374" stop-color="rgb(151,151,151)"/><stop offset="0.7486" stop-color="rgb(107,107,107)"/><stop offset="0.7598" stop-color="rgb(74,74,74)"/><stop offset="0.7709" stop-color="rgb(103,103,103)"/><stop offset="0.7821" stop-color="rgb(133,133,133)"/><stop offset="0.7933" stop-color="rgb(110,110,110)"/><stop offset="0.8045" stop-color="rgb(60,60,60)"/><stop offset="0.8156" stop-color="rgb(58,58,58)"/><stop offset="0.8268" stop-color="rgb(104,104,104)"/><stop offset="0.8380" stop-color="rgb(135,135,135)"/><stop offset="0.8492" stop-color="rgb(132,132,132)"/><stop offset="0.8603" stop-color="rgb(107,107,107)"/><stop offset="0.8715" stop-color="rgb(67,67,67)"/><stop offset="0.8827" stop-color="rgb(23,23,23)"/><stop offset="0.8939" stop-color="rgb(0,0,0)"/><stop offset="0.9050" stop-color="rgb(0,0,0)"/><stop offset="0.9162" stop-color="rgb(0,0,0)"/><stop offset="0.9274" stop-color="rgb(26,26,26)"/><stop offset="0.9385" stop-color="rgb(73,73,73)"/><stop offset="0.9497" stop-color="rgb(112,112,112)"/><stop offset="0.9609" stop-color="rgb(137,137,137)"/><stop offset="0.9721" stop-color="rgb(163,163,163)"/><stop offset="0.9832" stop-color="rgb(181,181,181)"/><stop offset="0.9944" stop-color="rgb(212,212,212)"/></linearGradient>
<linearGradient id="g7" x1="0" y1="0" x2="0" y2="1"><stop offset="0.0000" stop-color="rgb(236,236,236)"/><stop offset="0.0112" stop-color="rgb(224,224,224)"/><stop offset="0.0223" stop-color="rgb(224,224,224)"/><stop offset="0.0335" stop-color="rgb(224,224,224)"/><stop offset="0.0447" stop-color="rgb(224,224,224)"/><stop offset="0.0559" stop-color="rgb(224,224,224)"/><stop offset="0.0670" stop-color="rgb(224,224,224)"/><stop offset="0.0782" stop-color="rgb(224,224,224)"/><stop offset="0.0894" stop-color="rgb(224,224,224)"/><stop offset="0.1006" stop-color="rgb(224,224,224)"/><stop offset="0.1117" stop-color="rgb(224,224,224)"/><stop offset="0.1229" stop-color="rgb(224,224,224)"/><stop offset="0.1341" stop-color="rgb(224,224,224)"/><stop offset="0.1453" stop-color="rgb(224,224,224)"/><stop offset="0.1564" stop-color="rgb(224,224,224)"/><stop offset="0.1676" stop-color="rgb(224,224,224)"/><stop offset="0.1788" stop-color="rgb(224,224,224)"/><stop offset="0.1899" stop-color="rgb(224,224,224)"/><stop offset="0.2011" stop-color="rgb(224,224,224)"/><stop offset="0.2123" stop-color="rgb(224,224,224)"/><stop offset="0.2235" stop-color="rgb(224,224,224)"/><stop offset="0.2346" stop-color="rgb(224,224,224)"/><stop offset="0.2458" stop-color="rgb(224,224,224)"/><stop offset="0.2570" stop-color="rgb(224,224,224)"/><stop offset="0.2682" stop-color="rgb(224,224,224)"/><stop offset="0.2793" stop-color="rgb(224,224,224)"/><stop offset="0.2905" stop-color="rgb(224,224,224)"/><stop offset="0.3017" stop-color="rgb(224,224,224)"/><stop offset="0.3128" stop-color="rgb(224,224,224)"/><stop offset="0.3240" stop-color="rgb(223,223,223)"/><stop offset="0.3352" stop-color="rgb(222,222,222)"/><stop offset="0.3464" stop-color="rgb(222,222,222)"/><stop offset="0.3575" stop-color="rgb(221,221,221)"/><stop offset="0.3687" stop-color="rgb(220,220,220)"/><stop offset="0.3799" stop-color="rgb(220,220,220)"/><stop offset="0.3911" stop-color="rgb(219,219,219)"/><stop offset="0.4022" stop-color="rgb(218,218,218)"/><stop offset="0.4134" stop-color="rgb(217,217,217)"/><stop offset="0.4246" stop-color="rgb(217,217,217)"/><stop offset="0.4358" stop-color="rgb(216,216,216)"/><stop offset="0.4469" stop-color="rgb(215,215,215)"/><stop offset="0.4581" stop-color="rgb(215,215,215)"/><stop offset="0.4693" stop-color="rgb(214,214,214)"/><stop offset="0.4804" stop-color="rgb(213,213,213)"/><stop offset="0.4916" stop-color="rgb(213,213,213)"/><stop offset="0.5028" stop-color="rgb(212,212,212)"/><stop offset="0.5140" stop-color="rgb(210,210,210)"/><stop offset="0.5251" stop-color="rgb(203,203,203)"/><stop offset="0.5363" stop-color="rgb(198,198,198)"/><stop offset="0.5475" stop-color="rgb(201,201,201)"/><stop offset="0.5587" stop-color="rgb(206,206,206)"/><stop offset="0.5698" stop-color="rgb(200,200,200)"/><stop offset="0.5810" stop-color="rgb(177,177,177)"/><stop offset="0.5922" stop-color="rgb(157,157,157)"/><stop offset="0.6034" stop-color="rgb(175,175,175)"/><stop offset="0.6145" stop-color="rgb(197,197,197)"/><stop offset="0.6257" stop-color="rgb(194,194,194)"/><stop offset="0.6369" stop-color="rgb(167,167,167)"/><stop offset="0.6480" stop-color="rgb(143,143,143)"/><stop offset="0.6592" stop-color="rgb(165,165,165)"/><stop offset="0.6704" stop-color="rgb(191,191,191)"/><stop offset="0.6816" stop-color="rgb(189,189,189)"/><stop offset="0.6927" stop-color="rgb(157,157,157)"/><stop offset="0.7039" stop-color="rgb(129,129,129)"/><stop offset="0.7151" stop-color="rgb(155,155,155)"/><stop offset="0.7263" stop-color="rgb(184,184,184)"/><stop offset="0.7374" stop-color="rgb(179,179,179)"/><stop offset="0.7486" stop-color="rgb(142,142,142)"/><stop offset="0.7598" stop-color="rgb(114,114,114)"/><stop offset="0.7709" stop-color="rgb(137,137,137)"/><stop offset="0.7821" stop-color="rgb(163,163,163)"/><stop offset="0.7933" stop-color="rgb(143,143,143)"/><stop offset="0.8045" stop-color="rgb(101,101,101)"/><stop offset="0.8156" stop-color="rgb(99,99,99)"/><stop offset="0.8268" stop-color="rgb(138,138,138)"/><stop offset="0.8380" stop-color="rgb(163,163,163)"/><stop offset="0.8492" stop-color="rgb(155,155,155)"/><stop offset="0.8603" stop-color="rgb(124,124,124)"/><stop offset="0.8715" stop-color="rgb(75,75,75)"/><stop offset="0.8827" stop-color="rgb(25,25,25)"/><stop offset="0.8939" stop-color="rgb(0,0,0)"/><stop offset="0.9050" stop-color="rgb(0,0,0)"/><stop offset="0.9162" stop-color="rgb(29,29,29)"/><stop offset="0.9274" stop-color="rgb(83,83,83)"/><stop offset="0.9385" stop-color="rgb(132,132,132)"/><stop offset="0.9497" stop-color="rgb(164,164,164)"/><stop offset="0.9609" stop-color="rgb(181,181,181)"/><stop offset="0.9721" stop-color="rgb(196,196,196)"/><stop offset="0.9832" stop-color="rgb(206,206,206)"/><stop offset="0.9944" stop-color="rgb(225,225,225)"/></linearGradient>
<linearGradient id="g8" x1="0" y1="0" x2="0" y2="1"><stop offset="0.0000" stop-color="rgb(236,236,236)"/><stop offset="0.0112" stop-color="rgb(226,226,226)"/><stop offset="0.0223" stop-color="rgb(226,226,226)"/><stop offset="0.0335" stop-color="rgb(226,226,226)"/><stop offset="0.0447" stop-color="rgb(226,226,226)"/><stop offset="0.0559" stop-color="rgb(226,226,226)"/><stop offset="0.0670" stop-color="rgb(226,226,226)"/><stop offset="0.0782" stop-color="rgb(226,226,226)"/><stop offset="0.0894" stop-color="rgb(225,225,225)"/><stop offset="0.1006" stop-color="rgb(225,225,225)"/><stop offset="0.1117" stop-color="rgb(225,225,225)"/><stop offset="0.1229" stop-color="rgb(225,225,225)"/><stop offset="0.1341" stop-color="rgb(225,225,225)"/><stop offset="0.1453" stop-color="rgb(225,225,225)"/><stop offset="0.1564" stop-color="rgb(225,225,225)"/><stop offset="0.1676" stop-color="rgb(225,225,225)"/><stop offset="0.1788" stop-color="rgb(225,225,225)"/><stop offset="0.1899" stop-color="rgb(225,225,225)"/><stop offset="0.2011" stop-color="rgb(225,225,225)"/><stop offset="0.2123" stop-color="rgb(225,225,225)"/><stop offset="0.2235" stop-color="rgb(225,225,225)"/><stop offset="0.2346" stop-color="rgb(224,224,224)"/><stop offset="0.2458" stop-color="rgb(224,224,224)"/><stop offset="0.2570" stop-color="rgb(224,224,224)"/><stop offset="0.2682" stop-color="rgb(224,224,224)"/><stop offset="0.2793" stop-color="rgb(224,224,224)"/><stop offset="0.2905" stop-color="rgb(224,224,224)"/><stop offset="0.3017" stop-color="rgb(224,224,224)"/><stop offset="0.3128" stop-color="rgb(224,224,224)"/><stop offset="0.3240" stop-color="rgb(224,224,224)"/><stop offset="0.3352" stop-color="rgb(224,224,224)"/><stop offset="0.3464" stop-color="rgb(224,224,224)"/><stop offset="0.3575" stop-color="rgb(224,224,224)"/><stop offset="0.3687" stop-color="rgb(224,224,224)"/><stop offset="0.3799" stop-color="rgb(224,224,224)"/><stop offset="0.3911" stop-color="rgb(223,223,223)"/><stop offset="0.4022" stop-color="rgb(223,223,223)"/><stop offset="0.4134" stop-color="rgb(223,223,223)"/><stop offset="0.4246" stop-color="rgb(223,223,223)"/><stop offset="0.4358" stop-color="rgb(223,223,223)"/><stop offset="0.4469" stop-color="rgb(223,223,223)"/><stop offset="0.4581" stop-color="rgb(223,223,223)"/><stop offset="0.4693" stop-color="rgb(223,223,223)"/><stop offset="0.4804" stop-color="rgb(223,223,223)"/><stop offset="0.4916" stop-color="rgb(223,223,223)"/><stop offset="0.5028" stop-color="rgb(223,223,223)"/><stop offset="0.5140" stop-color="rgb(223,223,223)"/><stop offset="0.5251" stop-color="rgb(223,223,223)"/><stop offset="0.5363" stop-color="rgb(222,222,222)"/><stop offset="0.5475" stop-color="rgb(222,222,222)"/><stop offset="0.5587" stop-color="rgb(222,222,222)"/><stop offset="0.5698" stop-color="rgb(222,222,222)"/><stop offset="0.5810" stop-color="rgb(222,222,222)"/><stop offset="0.5922" stop-color="rgb(222,222,222)"/><stop offset="0.6034" stop-color="rgb(222,222,222)"/><stop offset="0.6145" stop-color="rgb(222,222,222)"/><stop offset="0.6257" stop-color="rgb(222,222,222)"/><stop offset="0.6369" stop-color="rgb(222,222,222)"/><stop offset="0.6480" stop-color="rgb(222,222,222)"/><stop offset="0.6592" stop-color="rgb(222,222,222)"/><stop offset="0.6704" stop-color="rgb(222,222,222)"/><stop offset="0.6816" stop-color="rgb(222,222,222)"/><stop offset="0.6927" stop-color="rgb(221,221,221)"/><stop offset="0.7039" stop-color="rgb(221,221,221)"/><stop offset="0.7151" stop-color="rgb(221,221,221)"/><stop offset="0.7263" stop-color="rgb(221,221,221)"/><stop offset="0.7374" stop-color="rgb(221,221,221)"/><stop offset="0.7486" stop-color="rgb(221,221,221)"/><stop offset="0.7598" stop-color="rgb(220,220,220)"/><stop offset="0.7709" stop-color="rgb(219,219,219)"/><stop offset="0.7821" stop-color="rgb(219,219,219)"/><stop offset="0.7933" stop-color="rgb(218,218,218)"/><stop offset="0.8045" stop-color="rgb(217,217,217)"/><stop offset="0.8156" stop-color="rgb(217,217,217)"/><stop offset="0.8268" stop-color="rgb(216,216,216)"/><stop offset="0.8380" stop-color="rgb(216,216,216)"/><stop offset="0.8492" stop-color="rgb(215,215,215)"/><stop offset="0.8603" stop-color="rgb(214,214,214)"/><stop offset="0.8715" stop-color="rgb(212,212,212)"/><stop offset="0.8827" stop-color="rgb(207,207,207)"/><stop offset="0.8939" stop-color="rgb(189,189,189)"/><stop offset="0.9050" stop-color="rgb(152,152,152)"/><stop offset="0.9162" stop-color="rgb(108,108,108)"/><stop offset="0.9274" stop-color="rgb(89,89,89)"/><stop offset="0.9385" stop-color="rgb(112,112,112)"/><stop offset="0.9497" stop-color="rgb(159,159,159)"/><stop offset="0.9609" stop-color="rgb(199,199,199)"/><stop offset="0.9721" stop-color="rgb(221,221,221)"/><stop offset="0.9832" stop-color="rgb(229,229,229)"/><stop offset="0.9944" stop-color="rgb(232,232,232)"/></linearGradient>
<filter id="hb" x="-30%" y="-5%" width="160%" height="110%"><feGaussianBlur stdDeviation="1.0 0.9"/></filter>
</defs>
<g filter="url(#hb)">
<polygon points="208.4,234 220.4,234 220.4,288 219.6,300 219.6,323.5 205.4,323.5 205.4,300 208.4,288" fill="url(#g1)"/>
<polygon points="224.0,234 236.5,234 236.5,290 236.2,304 236.2,323.5 221.6,323.5 221.6,304 224.0,290" fill="url(#g2)"/>
<polygon points="240.2,234 252.0,234 252.0,292 252.6,306 252.6,323.5 237.9,323.5 237.9,306 240.2,292" fill="url(#g3)"/>
<polygon points="255.2,234 267.0,234 267.0,300 266.6,312 266.6,323.5 255.3,323.5 255.3,312 255.2,300" fill="url(#g4)"/>
<polygon points="270.5,234 282.4,234 282.4,292 283.5,306 283.5,323.5 269.6,323.5 269.6,306 270.5,292" fill="url(#g5)"/>
<polygon points="285.3,234 297.8,234 297.8,294 298.5,308 298.5,323.5 284.2,323.5 284.2,308 285.3,294" fill="url(#g6)"/>
<polygon points="301.5,234 313.3,234 313.3,294 314.0,308 314.0,323.5 299.7,323.5 299.7,308 301.5,294" fill="url(#g7)"/>
<polygon points="317.8,234 328.0,234 328.0,300 328.4,312 328.4,323.5 317.1,323.5 317.1,312 317.8,300" fill="url(#g8)"/>
</g>
<filter id="bb" x="-30%" y="-50%" width="160%" height="200%"><feGaussianBlur stdDeviation="1.1"/></filter>
<g filter="url(#bb)">
<ellipse cx="212.50" cy="307.8" rx="7.70" ry="4.6" fill="#000" opacity="0.9"/>
<ellipse cx="228.90" cy="311.3" rx="7.90" ry="4.2" fill="#000" opacity="0.85"/>
<ellipse cx="245.25" cy="312.8" rx="7.95" ry="4.0" fill="#000" opacity="0.85"/>
<ellipse cx="276.55" cy="315" rx="7.55" ry="4.8" fill="#000" opacity="0.9"/>
<ellipse cx="291.35" cy="315" rx="7.75" ry="4.4" fill="#000" opacity="0.85"/>
<ellipse cx="306.85" cy="314.5" rx="7.75" ry="3.9" fill="#000" opacity="0.85"/>
</g>
<rect x="205" y="343.8" width="59" height="56" fill="#fff" stroke="#000" stroke-width="0.8"/>
<rect x="268.7" y="343.3" width="60.2" height="57" fill="#fff" stroke="#000" stroke-width="0.8"/>
<text x="234" y="339" font-size="7.6" text-anchor="middle" textLength="30" lengthAdjust="spacingAndGlyphs">CTSC12</text>
<text x="298.7" y="339" font-size="7.6" text-anchor="middle" textLength="31.5" lengthAdjust="spacingAndGlyphs">CTSC 13</text>
<polygon points="205.00,399.50 205.30,390.00 206.80,377.60 208.00,372.00 209.00,368.60 210.00,367.50 211.30,365.60 212.50,363.00 214.30,361.00 215.00,364.50 216.00,364.00 217.30,366.30 218.00,369.00 218.80,373.00 220.00,372.50 221.00,372.30 222.60,376.80 224.00,381.00 226.30,389.60 228.00,394.00 230.00,397.90 231.50,399.50" fill="#000" stroke="none" stroke-width="1"/>
<polyline points="212.50,363.00 213.50,358.00 214.50,355.00 215.80,353.80 217.00,357.00 218.00,360.30 219.00,362.00 220.00,362.60 221.00,367.80 222.50,369.50 224.00,370.80 225.00,376.00 226.30,382.00 228.00,387.50 230.00,394.00 232.00,397.00 234.60,399.30" fill="none" stroke="#000" stroke-width="0.6"/>
<polygon points="269.00,399.50 269.20,385.00 269.50,380.70 270.50,373.00 272.00,368.60 273.50,364.10 274.70,367.90 275.80,365.60 277.30,369.40 278.80,370.10 280.30,372.40 281.80,373.90 283.30,376.10 284.80,380.70 287.00,388.20 289.30,393.50 292.40,398.00 294.60,399.50" fill="#000" stroke="none" stroke-width="1"/>
<polyline points="280.30,368.60 281.80,365.60 282.90,362.60 283.80,364.80 284.80,359.60 286.30,358.00 287.80,353.60 288.90,355.80 290.40,354.30 291.60,358.80 293.10,363.30 294.60,364.10 296.10,370.10 298.40,379.20 300.60,386.70 303.60,392.70 306.70,398.00 309.70,399.80" fill="none" stroke="#000" stroke-width="0.6"/>
<line x1="205" y1="343.8" x2="205" y2="399.8" stroke="#000" stroke-width="1.3"/>
<line x1="268.7" y1="343.3" x2="268.7" y2="400.3" stroke="#000" stroke-width="1.3"/>
<text x="0" y="0" font-size="5" text-anchor="middle" transform="translate(200.6 361.4) rotate(-90)" textLength="37" lengthAdjust="spacingAndGlyphs" style="stroke-width:0.1px">% of maximum</text>
<polyline points="199.30,388.50 199.30,405.60 216.00,405.60" fill="none" stroke="#000" stroke-width="0.8"/>
<polygon points="199.30,385.50 197.60,389.00 201.00,389.00" fill="#000" stroke="none" stroke-width="1"/>
<polygon points="219.00,405.60 215.50,403.90 215.50,407.30" fill="#000" stroke="none" stroke-width="1"/>
<text x="223" y="408.2" font-size="6.2" text-anchor="start" textLength="33" lengthAdjust="spacingAndGlyphs">HLAA2-FITC</text>
<!-- panel D -->
<text x="369.3" y="193.5" font-size="11.4" text-anchor="start" font-weight="bold">D</text>
<line x1="402.6" y1="195.5" x2="402.6" y2="277.5" stroke="#3a3a3a" stroke-width="1"/>
<line x1="400.5" y1="276.5" x2="402.5" y2="276.5" stroke="#000" stroke-width="0.8"/>
<text x="399.6" y="278.8" font-size="5.6" text-anchor="end">0</text>
<line x1="400.5" y1="261.05" x2="402.5" y2="261.05" stroke="#000" stroke-width="0.8"/>
<text x="399.6" y="263.35" font-size="5.6" text-anchor="end">20</text>
<line x1="400.5" y1="245.6" x2="402.5" y2="245.6" stroke="#000" stroke-width="0.8"/>
<text x="399.6" y="247.9" font-size="5.6" text-anchor="end">40</text>
<line x1="400.5" y1="230.15" x2="402.5" y2="230.15" stroke="#000" stroke-width="0.8"/>
<text x="399.6" y="232.45000000000002" font-size="5.6" text-anchor="end">60</text>
<line x1="400.5" y1="214.7" x2="402.5" y2="214.7" stroke="#000" stroke-width="0.8"/>
<text x="399.6" y="217.0" font-size="5.6" text-anchor="end">80</text>
<line x1="400.5" y1="199.25" x2="402.5" y2="199.25" stroke="#000" stroke-width="0.8"/>
<text x="399.6" y="201.55" font-size="5.6" text-anchor="end">100</text>
<line x1="402.5" y1="277.5" x2="489.8" y2="277.5" stroke="#000" stroke-width="1"/>
<line x1="492.6" y1="277.5" x2="512.5" y2="277.5" stroke="#000" stroke-width="1"/>
<line x1="489.8" y1="275.5" x2="489.8" y2="279.5" stroke="#000" stroke-width="0.8"/>
<line x1="492.6" y1="275.5" x2="492.6" y2="279.5" stroke="#000" stroke-width="0.8"/>
<line x1="402.5" y1="277.5" x2="402.5" y2="279.0" stroke="#000" stroke-width="0.8"/>
<line x1="423" y1="277.5" x2="423" y2="279.0" stroke="#000" stroke-width="0.8"/>
<line x1="443.75" y1="277.5" x2="443.75" y2="279.0" stroke="#000" stroke-width="0.8"/>
<line x1="464.5" y1="277.5" x2="464.5" y2="279.0" stroke="#000" stroke-width="0.8"/>
<line x1="484.5" y1="277.5" x2="484.5" y2="279.0" stroke="#000" stroke-width="0.8"/>
<line x1="497" y1="277.5" x2="497" y2="279.0" stroke="#000" stroke-width="0.8"/>
<line x1="512.5" y1="277.5" x2="512.5" y2="279.0" stroke="#000" stroke-width="0.8"/>
<line x1="402.6" y1="287.5" x2="402.6" y2="367.5" stroke="#3a3a3a" stroke-width="1"/>
<line x1="400.5" y1="367.5" x2="402.5" y2="367.5" stroke="#000" stroke-width="0.8"/>
<text x="399.6" y="369.8" font-size="5.6" text-anchor="end">0</text>
<line x1="400.5" y1="351.9" x2="402.5" y2="351.9" stroke="#000" stroke-width="0.8"/>
<text x="399.6" y="354.2" font-size="5.6" text-anchor="end">20</text>
<line x1="400.5" y1="336.3" x2="402.5" y2="336.3" stroke="#000" stroke-width="0.8"/>
<text x="399.6" y="338.6" font-size="5.6" text-anchor="end">40</text>
<line x1="400.5" y1="320.7" x2="402.5" y2="320.7" stroke="#000" stroke-width="0.8"/>
<text x="399.6" y="323.0" font-size="5.6" text-anchor="end">60</text>
<line x1="400.5" y1="305.1" x2="402.5" y2="305.1" stroke="#000" stroke-width="0.8"/>
<text x="399.6" y="307.40000000000003" font-size="5.6" text-anchor="end">80</text>
<line x1="400.5" y1="289.5" x2="402.5" y2="289.5" stroke="#000" stroke-width="0.8"/>
<text x="399.6" y="291.8" font-size="5.6" text-anchor="end">100</text>
<line x1="402.5" y1="367.5" x2="489.8" y2="367.5" stroke="#000" stroke-width="1"/>
<line x1="492.6" y1="367.5" x2="512.5" y2="367.5" stroke="#000" stroke-width="1"/>
<line x1="489.8" y1="365.5" x2="489.8" y2="369.5" stroke="#000" stroke-width="0.8"/>
<line x1="492.6" y1="365.5" x2="492.6" y2="369.5" stroke="#000" stroke-width="0.8"/>
<line x1="402.5" y1="367.5" x2="402.5" y2="369.0" stroke="#000" stroke-width="0.8"/>
<line x1="423" y1="367.5" x2="423" y2="369.0" stroke="#000" stroke-width="0.8"/>
<line x1="443.75" y1="367.5" x2="443.75" y2="369.0" stroke="#000" stroke-width="0.8"/>
<line x1="464.5" y1="367.5" x2="464.5" y2="369.0" stroke="#000" stroke-width="0.8"/>
<line x1="484.5" y1="367.5" x2="484.5" y2="369.0" stroke="#000" stroke-width="0.8"/>
<line x1="497" y1="367.5" x2="497" y2="369.0" stroke="#000" stroke-width="0.8"/>
<line x1="512.5" y1="367.5" x2="512.5" y2="369.0" stroke="#000" stroke-width="0.8"/>
<text x="387.4" y="236.3" font-size="7.6" text-anchor="middle" textLength="36" lengthAdjust="spacingAndGlyphs" transform="rotate(-90 387.4 236.3)">% Survival</text>
<text x="387.5" y="327.1" font-size="7.6" text-anchor="middle" textLength="37" lengthAdjust="spacingAndGlyphs" transform="rotate(-90 387.5 327.1)">% Survival</text>
<text x="483.5" y="201.1" font-size="7.9" text-anchor="start" textLength="29.5" lengthAdjust="spacingAndGlyphs">CTSC12</text>
<text x="481.3" y="305.5" font-size="8.3" text-anchor="start" textLength="31.7" lengthAdjust="spacingAndGlyphs">CTSC 13</text>
<text x="402.2" y="377.2" font-size="6.0" text-anchor="middle">0</text>
<text x="423" y="377.2" font-size="6.0" text-anchor="middle">5</text>
<text x="443.75" y="377.2" font-size="6.0" text-anchor="middle">10</text>
<text x="464.5" y="377.2" font-size="6.0" text-anchor="middle">15</text>
<text x="484.5" y="377.2" font-size="6.0" text-anchor="middle">20</text>
<text x="496" y="377.2" font-size="6.0" text-anchor="middle">45</text>
<text x="512.5" y="377.2" font-size="6.0" text-anchor="middle">50</text>
<text x="457.9" y="388.2" font-size="7.6" text-anchor="middle" font-weight="bold" textLength="23.3" lengthAdjust="spacingAndGlyphs" style="stroke-width:0.1px">Weeks</text>
<path d="M402.50,199.25 H448.80 V224.74 H453.30 V251.01 H456.20 V268.00 H465.30 V276.50 H465.30" fill="none" stroke="#000" stroke-width="0.9"/>
<path d="M402.50,199.25 H448.80 V234.01 H452.50 V268.00 H457.20 V276.50 H457.20" fill="none" stroke="#000" stroke-width="0.9"/>
<ellipse cx="402.60" cy="199.25" rx="1.15" ry="1.35" fill="#fff" stroke="#000" stroke-width="0.75"/>
<ellipse cx="406.81" cy="199.25" rx="1.15" ry="1.35" fill="#fff" stroke="#000" stroke-width="0.75"/>
<ellipse cx="411.02" cy="199.25" rx="1.15" ry="1.35" fill="#fff" stroke="#000" stroke-width="0.75"/>
<ellipse cx="415.23" cy="199.25" rx="1.15" ry="1.35" fill="#fff" stroke="#000" stroke-width="0.75"/>
<ellipse cx="419.44" cy="199.25" rx="1.15" ry="1.35" fill="#fff" stroke="#000" stroke-width="0.75"/>
<ellipse cx="423.65" cy="199.25" rx="1.15" ry="1.35" fill="#fff" stroke="#000" stroke-width="0.75"/>
<ellipse cx="427.86" cy="199.25" rx="1.15" ry="1.35" fill="#fff" stroke="#000" stroke-width="0.75"/>
<ellipse cx="432.07" cy="199.25" rx="1.15" ry="1.35" fill="#fff" stroke="#000" stroke-width="0.75"/>
<ellipse cx="436.28" cy="199.25" rx="1.15" ry="1.35" fill="#fff" stroke="#000" stroke-width="0.75"/>
<ellipse cx="440.49" cy="199.25" rx="1.15" ry="1.35" fill="#fff" stroke="#000" stroke-width="0.75"/>
<ellipse cx="444.70" cy="199.25" rx="1.15" ry="1.35" fill="#fff" stroke="#000" stroke-width="0.75"/>
<circle cx="448.80" cy="224.74" r="1.3" fill="#fff" stroke="#000" stroke-width="0.7"/>
<circle cx="453.30" cy="251.01" r="1.3" fill="#fff" stroke="#000" stroke-width="0.7"/>
<circle cx="456.50" cy="268.00" r="1.3" fill="#fff" stroke="#000" stroke-width="0.7"/>
<circle cx="460.50" cy="268.00" r="1.3" fill="#fff" stroke="#000" stroke-width="0.7"/>
<circle cx="465.30" cy="276.50" r="1.3" fill="#fff" stroke="#000" stroke-width="0.7"/>
<circle cx="448.80" cy="234.01" r="1.3" fill="#000" stroke="#000" stroke-width="0.6"/>
<circle cx="452.50" cy="268.00" r="1.3" fill="#000" stroke="#000" stroke-width="0.6"/>
<circle cx="457.20" cy="276.50" r="1.3" fill="#000" stroke="#000" stroke-width="0.6"/>
<line x1="402.5" y1="289.5" x2="512.5" y2="289.5" stroke="#000" stroke-width="0.9"/>
<path d="M402.50,289.50 H452.00 V315.24 H456.50 V333.18 H460.75 V350.34 H464.25 V358.92 H472.50 V367.50 H472.50" fill="none" stroke="#000" stroke-width="0.9"/>
<ellipse cx="402.60" cy="289.50" rx="1.15" ry="1.35" fill="#fff" stroke="#000" stroke-width="0.75"/>
<ellipse cx="406.04" cy="289.50" rx="1.15" ry="1.35" fill="#fff" stroke="#000" stroke-width="0.75"/>
<ellipse cx="409.47" cy="289.50" rx="1.15" ry="1.35" fill="#fff" stroke="#000" stroke-width="0.75"/>
<ellipse cx="412.91" cy="289.50" rx="1.15" ry="1.35" fill="#fff" stroke="#000" stroke-width="0.75"/>
<ellipse cx="416.34" cy="289.50" rx="1.15" ry="1.35" fill="#fff" stroke="#000" stroke-width="0.75"/>
<ellipse cx="419.78" cy="289.50" rx="1.15" ry="1.35" fill="#fff" stroke="#000" stroke-width="0.75"/>
<ellipse cx="423.21" cy="289.50" rx="1.15" ry="1.35" fill="#fff" stroke="#000" stroke-width="0.75"/>
<ellipse cx="426.65" cy="289.50" rx="1.15" ry="1.35" fill="#fff" stroke="#000" stroke-width="0.75"/>
<ellipse cx="430.08" cy="289.50" rx="1.15" ry="1.35" fill="#fff" stroke="#000" stroke-width="0.75"/>
<ellipse cx="433.52" cy="289.50" rx="1.15" ry="1.35" fill="#fff" stroke="#000" stroke-width="0.75"/>
<ellipse cx="436.95" cy="289.50" rx="1.15" ry="1.35" fill="#fff" stroke="#000" stroke-width="0.75"/>
<ellipse cx="440.39" cy="289.50" rx="1.15" ry="1.35" fill="#fff" stroke="#000" stroke-width="0.75"/>
<ellipse cx="443.82" cy="289.50" rx="1.15" ry="1.35" fill="#fff" stroke="#000" stroke-width="0.75"/>
<ellipse cx="447.25" cy="289.50" rx="1.15" ry="1.35" fill="#fff" stroke="#000" stroke-width="0.75"/>
<ellipse cx="450.69" cy="289.50" rx="1.15" ry="1.35" fill="#fff" stroke="#000" stroke-width="0.75"/>
<ellipse cx="454.12" cy="289.50" rx="1.15" ry="1.35" fill="#fff" stroke="#000" stroke-width="0.75"/>
<ellipse cx="457.56" cy="289.50" rx="1.15" ry="1.35" fill="#fff" stroke="#000" stroke-width="0.75"/>
<ellipse cx="461.00" cy="289.50" rx="1.15" ry="1.35" fill="#fff" stroke="#000" stroke-width="0.75"/>
<ellipse cx="464.43" cy="289.50" rx="1.15" ry="1.35" fill="#fff" stroke="#000" stroke-width="0.75"/>
<ellipse cx="467.87" cy="289.50" rx="1.15" ry="1.35" fill="#fff" stroke="#000" stroke-width="0.75"/>
<ellipse cx="471.30" cy="289.50" rx="1.15" ry="1.35" fill="#fff" stroke="#000" stroke-width="0.75"/>
<ellipse cx="474.74" cy="289.50" rx="1.15" ry="1.35" fill="#fff" stroke="#000" stroke-width="0.75"/>
<ellipse cx="478.17" cy="289.50" rx="1.15" ry="1.35" fill="#fff" stroke="#000" stroke-width="0.75"/>
<ellipse cx="481.61" cy="289.50" rx="1.15" ry="1.35" fill="#fff" stroke="#000" stroke-width="0.75"/>
<ellipse cx="485.04" cy="289.50" rx="1.15" ry="1.35" fill="#fff" stroke="#000" stroke-width="0.75"/>
<ellipse cx="488.48" cy="289.50" rx="1.15" ry="1.35" fill="#fff" stroke="#000" stroke-width="0.75"/>
<ellipse cx="491.91" cy="289.50" rx="1.15" ry="1.35" fill="#fff" stroke="#000" stroke-width="0.75"/>
<ellipse cx="495.35" cy="289.50" rx="1.15" ry="1.35" fill="#fff" stroke="#000" stroke-width="0.75"/>
<ellipse cx="498.78" cy="289.50" rx="1.15" ry="1.35" fill="#fff" stroke="#000" stroke-width="0.75"/>
<ellipse cx="502.22" cy="289.50" rx="1.15" ry="1.35" fill="#fff" stroke="#000" stroke-width="0.75"/>
<ellipse cx="505.65" cy="289.50" rx="1.15" ry="1.35" fill="#fff" stroke="#000" stroke-width="0.75"/>
<ellipse cx="509.09" cy="289.50" rx="1.15" ry="1.35" fill="#fff" stroke="#000" stroke-width="0.75"/>
<ellipse cx="512.52" cy="289.50" rx="1.15" ry="1.35" fill="#fff" stroke="#000" stroke-width="0.75"/>
<rect x="489.6" y="287.9" width="2.9" height="3.4" fill="#bbb" stroke="#555" stroke-width="0.6"/>
<circle cx="452.00" cy="315.24" r="1.3" fill="#000" stroke="#000" stroke-width="0.6"/>
<circle cx="456.50" cy="333.18" r="1.3" fill="#000" stroke="#000" stroke-width="0.6"/>
<circle cx="460.75" cy="350.34" r="1.3" fill="#000" stroke="#000" stroke-width="0.6"/>
<circle cx="464.25" cy="358.92" r="1.3" fill="#000" stroke="#000" stroke-width="0.6"/>
<circle cx="468.00" cy="358.92" r="1.3" fill="#000" stroke="#000" stroke-width="0.6"/>
<circle cx="472.50" cy="367.50" r="1.3" fill="#000" stroke="#000" stroke-width="0.6"/>
<line x1="402.6" y1="396.3" x2="415" y2="396.3" stroke="#000" stroke-width="1.0"/>
<circle cx="408.80" cy="396.30" r="1.4" fill="#000" stroke="#000" stroke-width="0.6"/>
<line x1="402.6" y1="405.5" x2="415" y2="405.5" stroke="#000" stroke-width="1.0"/>
<circle cx="408.80" cy="405.50" r="1.3" fill="#fff" stroke="#000" stroke-width="0.7"/>
<text x="419.2" y="398.2" font-size="6.2" textLength="45.6" lengthAdjust="spacingAndGlyphs">hTERT<tspan font-size="4.6" dy="2">30-38</tspan><tspan dy="-2"> CTLs</tspan></text>
<text x="419.2" y="407.4" font-size="6.2" textLength="51" lengthAdjust="spacingAndGlyphs">hTERT<tspan font-size="4.6" dy="2">865-873</tspan><tspan dy="-2"> CTLs</tspan></text>
</svg>
</body></html>
